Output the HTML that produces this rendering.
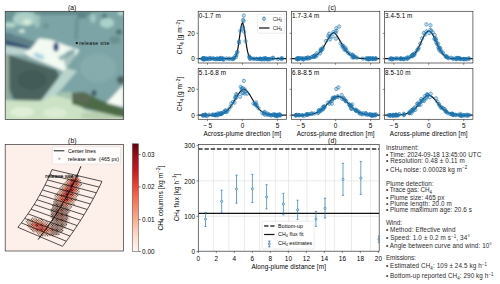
<!DOCTYPE html><html><head><meta charset="utf-8"><style>html,body{margin:0;padding:0;background:#fff;overflow:hidden}svg{display:block}text{font-family:"Liberation Sans",sans-serif;white-space:pre}</style></head><body>
<svg width="500" height="284" viewBox="0 0 500 284">
<rect width="500" height="284" fill="#fff"/>
<defs><filter id="blurA" x="-10%" y="-10%" width="120%" height="120%"><feGaussianBlur stdDeviation="1.6"/></filter>
<clipPath id="clipA"><rect x="5.2" y="11.3" width="118.5" height="108.10000000000001"/></clipPath></defs>
<g clip-path="url(#clipA)"><g filter="url(#blurA)">
<rect x="0" y="0" width="130" height="125" fill="#7ca4a6"/>
<rect x="0" y="0" width="15" height="21" fill="#6a9494"/>
<ellipse cx="25" cy="19" rx="12" ry="7" fill="#acd0c8"/>
<ellipse cx="27" cy="22" rx="4" ry="3" fill="#d4ead8"/>
<ellipse cx="10" cy="25" rx="6" ry="2.5" fill="#b4d6cc"/>
<ellipse cx="22" cy="31" rx="3" ry="1.5" fill="#dcefe6"/>
<ellipse cx="8" cy="36" rx="6" ry="3" fill="#4e7484"/>
<ellipse cx="37" cy="20" rx="3" ry="8" fill="#9cc4bc"/>
<rect x="35" y="11" width="60" height="3.5" fill="#5e8484"/>
<ellipse cx="46" cy="26" rx="3" ry="2" fill="#6a9090"/>
<ellipse cx="82" cy="16" rx="5" ry="2.5" fill="#5a8488"/>
<polygon points="75,18 79,18 78,40 74,40" fill="#6a9498"/>
<ellipse cx="93" cy="18" rx="3" ry="5" fill="#a0c8c0"/>
<ellipse cx="107" cy="23" rx="7" ry="5" fill="#aad2ca"/>
<ellipse cx="104.5" cy="16" rx="2.5" ry="2.2" fill="#507070"/>
<ellipse cx="119" cy="32" rx="3" ry="2.5" fill="#4a6a6a"/>
<ellipse cx="121" cy="13" rx="3" ry="2" fill="#c0e0d0"/>
<ellipse cx="115" cy="40" rx="6" ry="4" fill="#6a9090"/>
<polygon points="0,32 22,37 38,43 31,48 0,44" fill="#5e8088"/>
<polygon points="5,40 25,45.5 31,48.5 29,50 5,45" fill="#2f5070"/>
<polygon points="5,45.5 29,49.5 36,55 5,54.5" fill="#bcd4d0"/>
<polygon points="39,38.3 50,39.5 59.5,42.9 67.5,46.1 79.4,50.1 64.3,71.5 50,65.2 30,57 24,53 31,48.5" fill="#f2faf2"/>
<polygon points="58,57 74,48.5 76,52 61,61" fill="#98b8b8"/>
<ellipse cx="56" cy="47" rx="2.6" ry="4.5" fill="#1e3c78"/>
<ellipse cx="39" cy="56" rx="6" ry="2.5" fill="#a8d4e0" transform="rotate(22 39 56)"/>
<polygon points="0,53 26,57 49,66 63,72 58,74 0,58" fill="#88a8a8"/>
<ellipse cx="98" cy="68" rx="18" ry="14" fill="#90b2b2" opacity="0.6"/>
<ellipse cx="70" cy="60" rx="6" ry="10" fill="#7aa0a0" opacity="0.6"/>
<polygon points="8.9,55 30,61.5 56.5,70 60,78 56.7,90.6 48.7,98.5 34.5,101.7 13.7,100 9.2,89.3" fill="#4c645e"/>
<ellipse cx="32" cy="80" rx="15" ry="10" fill="#425a54"/>
<polygon points="0,56 9,56 9,102 0,102" fill="#94ac9c"/>
<polygon points="66,68 77,71 46,107 37,106" fill="#b8d4cc"/>
<polygon points="60,92 72,92 72,104 55,104" fill="#c0d8b8" opacity="0.6"/>
<polygon points="0,100 41,100.8 55,95 72,100 85,110 125,116 125,125 0,125" fill="#cce2c4"/>
<ellipse cx="22" cy="112" rx="12" ry="5" fill="#e0f0d8"/>
<ellipse cx="55" cy="113" rx="12" ry="5" fill="#dcecd4"/>
<ellipse cx="100" cy="116" rx="20" ry="4" fill="#b8d0b0"/>
<polygon points="72,93 84,92 100,100 125,109 125,118 100,112 85,108 72,104" fill="#4e6a46"/>
<ellipse cx="82" cy="98" rx="9" ry="6" fill="#5a6a52"/>
<ellipse cx="94" cy="93" rx="2.5" ry="3" fill="#3e5a6a"/>
<ellipse cx="121" cy="80" rx="4" ry="4" fill="#4c6262"/>
<polygon points="106.4,103 123.7,84.5 123.7,107" fill="#f6fcf4"/>
</g></g>
<rect x="5.20" y="11.30" width="118.50" height="108.10" fill="none" stroke="#333" stroke-width="0.7"/>
<circle cx="76.8" cy="43" r="1.1" fill="#000"/>
<text x="79.30" y="44.90" font-size="5.15" text-anchor="start" fill="#000" textLength="30.00" lengthAdjust="spacing"><tspan>release site</tspan></text>
<text x="72.10" y="10.30" font-size="6.72" text-anchor="middle" fill="#000" textLength="8.36" lengthAdjust="spacing"><tspan>(a)</tspan></text>
<defs><clipPath id="clipB"><rect x="5.2" y="144.6" width="118.39999999999999" height="106.4"/></clipPath>
<filter id="blurB" x="-20%" y="-20%" width="140%" height="140%"><feGaussianBlur stdDeviation="0.7"/></filter></defs>
<rect x="5.2" y="144.6" width="118.39999999999999" height="106.4" fill="#fdefea"/>
<g clip-path="url(#clipB)">
<g><rect x="70.75" y="175.00" width="1.30" height="1.30" fill="#fee4d7"/><rect x="72.00" y="175.00" width="1.30" height="1.30" fill="#6a5b55"/><rect x="73.25" y="175.00" width="1.30" height="1.30" fill="#fdd6c5"/><rect x="74.50" y="175.00" width="1.30" height="1.30" fill="#6a554c"/><rect x="75.75" y="175.00" width="1.30" height="1.30" fill="#fee5d9"/><rect x="68.25" y="176.25" width="1.30" height="1.30" fill="#6a605b"/><rect x="69.50" y="176.25" width="1.30" height="1.30" fill="#fedbcb"/><rect x="70.75" y="176.25" width="1.30" height="1.30" fill="#6a5851"/><rect x="72.00" y="176.25" width="1.30" height="1.30" fill="#fdcab5"/><rect x="73.25" y="176.25" width="1.30" height="1.30" fill="#693c2f"/><rect x="74.50" y="176.25" width="1.30" height="1.30" fill="#fca88b"/><rect x="75.75" y="176.25" width="1.30" height="1.30" fill="#6a574e"/><rect x="77.00" y="176.25" width="1.30" height="1.30" fill="#fedbcb"/><rect x="78.25" y="176.25" width="1.30" height="1.30" fill="#fee8de"/><rect x="67.00" y="177.50" width="1.30" height="1.30" fill="#6a5f5a"/><rect x="68.25" y="177.50" width="1.30" height="1.30" fill="#fed7c7"/><rect x="69.50" y="177.50" width="1.30" height="1.30" fill="#6a574f"/><rect x="70.75" y="177.50" width="1.30" height="1.30" fill="#fcaf93"/><rect x="72.00" y="177.50" width="1.30" height="1.30" fill="#693c2e"/><rect x="73.25" y="177.50" width="1.30" height="1.30" fill="#f96245"/><rect x="74.50" y="177.50" width="1.30" height="1.30" fill="#694337"/><rect x="75.75" y="177.50" width="1.30" height="1.30" fill="#fc9474"/><rect x="77.00" y="177.50" width="1.30" height="1.30" fill="#694539"/><rect x="78.25" y="177.50" width="1.30" height="1.30" fill="#fdd6c5"/><rect x="79.50" y="177.50" width="1.30" height="1.30" fill="#fee6db"/><rect x="67.00" y="178.75" width="1.30" height="1.30" fill="#fedfd1"/><rect x="68.25" y="178.75" width="1.30" height="1.30" fill="#695146"/><rect x="69.50" y="178.75" width="1.30" height="1.30" fill="#fc9778"/><rect x="70.75" y="178.75" width="1.30" height="1.30" fill="#67251a"/><rect x="72.00" y="178.75" width="1.30" height="1.30" fill="#e9362a"/><rect x="73.25" y="178.75" width="1.30" height="1.30" fill="#651c15"/><rect x="74.50" y="178.75" width="1.30" height="1.30" fill="#fb6f4f"/><rect x="75.75" y="178.75" width="1.30" height="1.30" fill="#662219"/><rect x="77.00" y="178.75" width="1.30" height="1.30" fill="#fc9576"/><rect x="78.25" y="178.75" width="1.30" height="1.30" fill="#694e43"/><rect x="79.50" y="178.75" width="1.30" height="1.30" fill="#fee2d6"/><rect x="80.75" y="178.75" width="1.30" height="1.30" fill="#fee8de"/><rect x="65.75" y="180.00" width="1.30" height="1.30" fill="#fee0d3"/><rect x="67.00" y="180.00" width="1.30" height="1.30" fill="#6a5750"/><rect x="68.25" y="180.00" width="1.30" height="1.30" fill="#fcb79d"/><rect x="69.50" y="180.00" width="1.30" height="1.30" fill="#693c2f"/><rect x="70.75" y="180.00" width="1.30" height="1.30" fill="#dc2924"/><rect x="72.00" y="180.00" width="1.30" height="1.30" fill="#631812"/><rect x="73.25" y="180.00" width="1.30" height="1.30" fill="#ba1419"/><rect x="74.50" y="180.00" width="1.30" height="1.30" fill="#611611"/><rect x="75.75" y="180.00" width="1.30" height="1.30" fill="#f14230"/><rect x="77.00" y="180.00" width="1.30" height="1.30" fill="#68281c"/><rect x="78.25" y="180.00" width="1.30" height="1.30" fill="#fca183"/><rect x="79.50" y="180.00" width="1.30" height="1.30" fill="#6a5952"/><rect x="64.50" y="181.25" width="1.30" height="1.30" fill="#fee8de"/><rect x="65.75" y="181.25" width="1.30" height="1.30" fill="#6a5951"/><rect x="67.00" y="181.25" width="1.30" height="1.30" fill="#fcb89e"/><rect x="68.25" y="181.25" width="1.30" height="1.30" fill="#693b2d"/><rect x="69.50" y="181.25" width="1.30" height="1.30" fill="#fb7959"/><rect x="70.75" y="181.25" width="1.30" height="1.30" fill="#641a13"/><rect x="72.00" y="181.25" width="1.30" height="1.30" fill="#c2161b"/><rect x="73.25" y="181.25" width="1.30" height="1.30" fill="#53090b"/><rect x="74.50" y="181.25" width="1.30" height="1.30" fill="#b21218"/><rect x="75.75" y="181.25" width="1.30" height="1.30" fill="#601410"/><rect x="77.00" y="181.25" width="1.30" height="1.30" fill="#fb7b5b"/><rect x="78.25" y="181.25" width="1.30" height="1.30" fill="#694e44"/><rect x="79.50" y="181.25" width="1.30" height="1.30" fill="#fdd0bd"/><rect x="63.25" y="182.50" width="1.30" height="1.30" fill="#fee5da"/><rect x="64.50" y="182.50" width="1.30" height="1.30" fill="#6a5f59"/><rect x="65.75" y="182.50" width="1.30" height="1.30" fill="#fcc4ac"/><rect x="67.00" y="182.50" width="1.30" height="1.30" fill="#694134"/><rect x="68.25" y="182.50" width="1.30" height="1.30" fill="#fc8666"/><rect x="69.50" y="182.50" width="1.30" height="1.30" fill="#5c110f"/><rect x="70.75" y="182.50" width="1.30" height="1.30" fill="#d32020"/><rect x="72.00" y="182.50" width="1.30" height="1.30" fill="#4d080a"/><rect x="73.25" y="182.50" width="1.30" height="1.30" fill="#810610"/><rect x="74.50" y="182.50" width="1.30" height="1.30" fill="#651d15"/><rect x="75.75" y="182.50" width="1.30" height="1.30" fill="#c5171c"/><rect x="77.00" y="182.50" width="1.30" height="1.30" fill="#692c1f"/><rect x="78.25" y="182.50" width="1.30" height="1.30" fill="#fcab8f"/><rect x="79.50" y="182.50" width="1.30" height="1.30" fill="#6a564e"/><rect x="80.75" y="182.50" width="1.30" height="1.30" fill="#fee8de"/><rect x="62.00" y="183.75" width="1.30" height="1.30" fill="#fee7dc"/><rect x="63.25" y="183.75" width="1.30" height="1.30" fill="#6a605b"/><rect x="64.50" y="183.75" width="1.30" height="1.30" fill="#fdccb8"/><rect x="65.75" y="183.75" width="1.30" height="1.30" fill="#694c41"/><rect x="67.00" y="183.75" width="1.30" height="1.30" fill="#fc9d7f"/><rect x="68.25" y="183.75" width="1.30" height="1.30" fill="#69382b"/><rect x="69.50" y="183.75" width="1.30" height="1.30" fill="#cd1a1e"/><rect x="70.75" y="183.75" width="1.30" height="1.30" fill="#662218"/><rect x="72.00" y="183.75" width="1.30" height="1.30" fill="#b71319"/><rect x="73.25" y="183.75" width="1.30" height="1.30" fill="#350206"/><rect x="74.50" y="183.75" width="1.30" height="1.30" fill="#f4503a"/><rect x="75.75" y="183.75" width="1.30" height="1.30" fill="#692f22"/><rect x="77.00" y="183.75" width="1.30" height="1.30" fill="#fc8060"/><rect x="78.25" y="183.75" width="1.30" height="1.30" fill="#694c41"/><rect x="79.50" y="183.75" width="1.30" height="1.30" fill="#fdd3c1"/><rect x="80.75" y="183.75" width="1.30" height="1.30" fill="#6a605b"/><rect x="62.00" y="185.00" width="1.30" height="1.30" fill="#6a605b"/><rect x="63.25" y="185.00" width="1.30" height="1.30" fill="#fdd1be"/><rect x="64.50" y="185.00" width="1.30" height="1.30" fill="#6a554c"/><rect x="65.75" y="185.00" width="1.30" height="1.30" fill="#fc8464"/><rect x="67.00" y="185.00" width="1.30" height="1.30" fill="#693b2d"/><rect x="68.25" y="185.00" width="1.30" height="1.30" fill="#fb7757"/><rect x="69.50" y="185.00" width="1.30" height="1.30" fill="#662118"/><rect x="70.75" y="185.00" width="1.30" height="1.30" fill="#800610"/><rect x="72.00" y="185.00" width="1.30" height="1.30" fill="#560b0d"/><rect x="73.25" y="185.00" width="1.30" height="1.30" fill="#f0402f"/><rect x="74.50" y="185.00" width="1.30" height="1.30" fill="#692d20"/><rect x="75.75" y="185.00" width="1.30" height="1.30" fill="#fc8e6e"/><rect x="77.00" y="185.00" width="1.30" height="1.30" fill="#693c2e"/><rect x="78.25" y="185.00" width="1.30" height="1.30" fill="#fcbda4"/><rect x="79.50" y="185.00" width="1.30" height="1.30" fill="#6a5c55"/><rect x="60.75" y="186.25" width="1.30" height="1.30" fill="#6a605b"/><rect x="62.00" y="186.25" width="1.30" height="1.30" fill="#fdd3c1"/><rect x="63.25" y="186.25" width="1.30" height="1.30" fill="#6a564e"/><rect x="64.50" y="186.25" width="1.30" height="1.30" fill="#fca588"/><rect x="65.75" y="186.25" width="1.30" height="1.30" fill="#693a2c"/><rect x="67.00" y="186.25" width="1.30" height="1.30" fill="#eb372a"/><rect x="68.25" y="186.25" width="1.30" height="1.30" fill="#661f16"/><rect x="69.50" y="186.25" width="1.30" height="1.30" fill="#8e0912"/><rect x="70.75" y="186.25" width="1.30" height="1.30" fill="#590e0e"/><rect x="72.00" y="186.25" width="1.30" height="1.30" fill="#e32f27"/><rect x="73.25" y="186.25" width="1.30" height="1.30" fill="#51090b"/><rect x="74.50" y="186.25" width="1.30" height="1.30" fill="#f34a35"/><rect x="75.75" y="186.25" width="1.30" height="1.30" fill="#694033"/><rect x="77.00" y="186.25" width="1.30" height="1.30" fill="#fca184"/><rect x="78.25" y="186.25" width="1.30" height="1.30" fill="#6a5b54"/><rect x="79.50" y="186.25" width="1.30" height="1.30" fill="#fee2d4"/><rect x="59.50" y="187.50" width="1.30" height="1.30" fill="#6a5f5a"/><rect x="60.75" y="187.50" width="1.30" height="1.30" fill="#fed9c8"/><rect x="62.00" y="187.50" width="1.30" height="1.30" fill="#6a5249"/><rect x="63.25" y="187.50" width="1.30" height="1.30" fill="#fcb398"/><rect x="64.50" y="187.50" width="1.30" height="1.30" fill="#694337"/><rect x="65.75" y="187.50" width="1.30" height="1.30" fill="#f85d42"/><rect x="67.00" y="187.50" width="1.30" height="1.30" fill="#692c1f"/><rect x="68.25" y="187.50" width="1.30" height="1.30" fill="#f03f2f"/><rect x="69.50" y="187.50" width="1.30" height="1.30" fill="#560b0c"/><rect x="70.75" y="187.50" width="1.30" height="1.30" fill="#f04130"/><rect x="72.00" y="187.50" width="1.30" height="1.30" fill="#590e0d"/><rect x="73.25" y="187.50" width="1.30" height="1.30" fill="#ca181d"/><rect x="74.50" y="187.50" width="1.30" height="1.30" fill="#662017"/><rect x="75.75" y="187.50" width="1.30" height="1.30" fill="#fc8d6d"/><rect x="77.00" y="187.50" width="1.30" height="1.30" fill="#694a3f"/><rect x="78.25" y="187.50" width="1.30" height="1.30" fill="#fed9c8"/><rect x="59.50" y="188.75" width="1.30" height="1.30" fill="#fedfd1"/><rect x="60.75" y="188.75" width="1.30" height="1.30" fill="#6a5951"/><rect x="62.00" y="188.75" width="1.30" height="1.30" fill="#fcae92"/><rect x="63.25" y="188.75" width="1.30" height="1.30" fill="#69493e"/><rect x="64.50" y="188.75" width="1.30" height="1.30" fill="#f4513a"/><rect x="65.75" y="188.75" width="1.30" height="1.30" fill="#68271b"/><rect x="67.00" y="188.75" width="1.30" height="1.30" fill="#f85f43"/><rect x="68.25" y="188.75" width="1.30" height="1.30" fill="#5e120f"/><rect x="69.50" y="188.75" width="1.30" height="1.30" fill="#c9181d"/><rect x="70.75" y="188.75" width="1.30" height="1.30" fill="#651d15"/><rect x="72.00" y="188.75" width="1.30" height="1.30" fill="#dd2a25"/><rect x="73.25" y="188.75" width="1.30" height="1.30" fill="#662017"/><rect x="74.50" y="188.75" width="1.30" height="1.30" fill="#f96245"/><rect x="75.75" y="188.75" width="1.30" height="1.30" fill="#694639"/><rect x="77.00" y="188.75" width="1.30" height="1.30" fill="#fdcdb8"/><rect x="78.25" y="188.75" width="1.30" height="1.30" fill="#6a5e59"/><rect x="79.50" y="188.75" width="1.30" height="1.30" fill="#fee8dd"/><rect x="57.00" y="190.00" width="1.30" height="1.30" fill="#fee8dd"/><rect x="58.25" y="190.00" width="1.30" height="1.30" fill="#fee5d9"/><rect x="59.50" y="190.00" width="1.30" height="1.30" fill="#6a5d56"/><rect x="60.75" y="190.00" width="1.30" height="1.30" fill="#fdccb8"/><rect x="62.00" y="190.00" width="1.30" height="1.30" fill="#694a3f"/><rect x="63.25" y="190.00" width="1.30" height="1.30" fill="#fb7252"/><rect x="64.50" y="190.00" width="1.30" height="1.30" fill="#692d1f"/><rect x="65.75" y="190.00" width="1.30" height="1.30" fill="#f85f43"/><rect x="67.00" y="190.00" width="1.30" height="1.30" fill="#440608"/><rect x="68.25" y="190.00" width="1.30" height="1.30" fill="#990c13"/><rect x="69.50" y="190.00" width="1.30" height="1.30" fill="#5f1410"/><rect x="70.75" y="190.00" width="1.30" height="1.30" fill="#960b13"/><rect x="72.00" y="190.00" width="1.30" height="1.30" fill="#5b0f0e"/><rect x="73.25" y="190.00" width="1.30" height="1.30" fill="#ee3a2c"/><rect x="74.50" y="190.00" width="1.30" height="1.30" fill="#693225"/><rect x="75.75" y="190.00" width="1.30" height="1.30" fill="#fc9d7e"/><rect x="77.00" y="190.00" width="1.30" height="1.30" fill="#6a5249"/><rect x="78.25" y="190.00" width="1.30" height="1.30" fill="#fee0d2"/><rect x="55.75" y="191.25" width="1.30" height="1.30" fill="#fee8dd"/><rect x="57.00" y="191.25" width="1.30" height="1.30" fill="#fee6da"/><rect x="58.25" y="191.25" width="1.30" height="1.30" fill="#6a574f"/><rect x="59.50" y="191.25" width="1.30" height="1.30" fill="#fdc8b2"/><rect x="60.75" y="191.25" width="1.30" height="1.30" fill="#69483c"/><rect x="62.00" y="191.25" width="1.30" height="1.30" fill="#fc9d7e"/><rect x="63.25" y="191.25" width="1.30" height="1.30" fill="#692c1f"/><rect x="64.50" y="191.25" width="1.30" height="1.30" fill="#cc191d"/><rect x="65.75" y="191.25" width="1.30" height="1.30" fill="#550a0c"/><rect x="67.00" y="191.25" width="1.30" height="1.30" fill="#a30e15"/><rect x="68.25" y="191.25" width="1.30" height="1.30" fill="#570c0d"/><rect x="69.50" y="191.25" width="1.30" height="1.30" fill="#d62221"/><rect x="70.75" y="191.25" width="1.30" height="1.30" fill="#611611"/><rect x="72.00" y="191.25" width="1.30" height="1.30" fill="#e93529"/><rect x="73.25" y="191.25" width="1.30" height="1.30" fill="#68281c"/><rect x="74.50" y="191.25" width="1.30" height="1.30" fill="#fc8666"/><rect x="75.75" y="191.25" width="1.30" height="1.30" fill="#6a554c"/><rect x="77.00" y="191.25" width="1.30" height="1.30" fill="#fdd2bf"/><rect x="78.25" y="191.25" width="1.30" height="1.30" fill="#6a5f5a"/><rect x="57.00" y="192.50" width="1.30" height="1.30" fill="#6a5b54"/><rect x="58.25" y="192.50" width="1.30" height="1.30" fill="#fdd2bf"/><rect x="59.50" y="192.50" width="1.30" height="1.30" fill="#695147"/><rect x="60.75" y="192.50" width="1.30" height="1.30" fill="#fcb296"/><rect x="62.00" y="192.50" width="1.30" height="1.30" fill="#694033"/><rect x="63.25" y="192.50" width="1.30" height="1.30" fill="#ef3d2d"/><rect x="64.50" y="192.50" width="1.30" height="1.30" fill="#67261b"/><rect x="65.75" y="192.50" width="1.30" height="1.30" fill="#8f0a12"/><rect x="67.00" y="192.50" width="1.30" height="1.30" fill="#631712"/><rect x="68.25" y="192.50" width="1.30" height="1.30" fill="#810610"/><rect x="69.50" y="192.50" width="1.30" height="1.30" fill="#641a13"/><rect x="70.75" y="192.50" width="1.30" height="1.30" fill="#fa6446"/><rect x="72.00" y="192.50" width="1.30" height="1.30" fill="#631812"/><rect x="73.25" y="192.50" width="1.30" height="1.30" fill="#fc9070"/><rect x="74.50" y="192.50" width="1.30" height="1.30" fill="#693f32"/><rect x="75.75" y="192.50" width="1.30" height="1.30" fill="#fdd0bd"/><rect x="77.00" y="192.50" width="1.30" height="1.30" fill="#6a605a"/><rect x="78.25" y="192.50" width="1.30" height="1.30" fill="#fee7dc"/><rect x="54.50" y="193.75" width="1.30" height="1.30" fill="#fee8de"/><rect x="55.75" y="193.75" width="1.30" height="1.30" fill="#6a5e59"/><rect x="57.00" y="193.75" width="1.30" height="1.30" fill="#fdcab5"/><rect x="58.25" y="193.75" width="1.30" height="1.30" fill="#694a3f"/><rect x="59.50" y="193.75" width="1.30" height="1.30" fill="#fcaf93"/><rect x="60.75" y="193.75" width="1.30" height="1.30" fill="#694337"/><rect x="62.00" y="193.75" width="1.30" height="1.30" fill="#fb7252"/><rect x="63.25" y="193.75" width="1.30" height="1.30" fill="#641a13"/><rect x="64.50" y="193.75" width="1.30" height="1.30" fill="#ca181d"/><rect x="65.75" y="193.75" width="1.30" height="1.30" fill="#3f0407"/><rect x="67.00" y="193.75" width="1.30" height="1.30" fill="#7a050f"/><rect x="68.25" y="193.75" width="1.30" height="1.30" fill="#651c14"/><rect x="69.50" y="193.75" width="1.30" height="1.30" fill="#ae1117"/><rect x="70.75" y="193.75" width="1.30" height="1.30" fill="#580c0d"/><rect x="72.00" y="193.75" width="1.30" height="1.30" fill="#f14432"/><rect x="73.25" y="193.75" width="1.30" height="1.30" fill="#69392c"/><rect x="74.50" y="193.75" width="1.30" height="1.30" fill="#fcbda4"/><rect x="75.75" y="193.75" width="1.30" height="1.30" fill="#6a544a"/><rect x="77.00" y="193.75" width="1.30" height="1.30" fill="#fee0d2"/><rect x="54.50" y="195.00" width="1.30" height="1.30" fill="#6a605b"/><rect x="55.75" y="195.00" width="1.30" height="1.30" fill="#fee1d4"/><rect x="57.00" y="195.00" width="1.30" height="1.30" fill="#695147"/><rect x="58.25" y="195.00" width="1.30" height="1.30" fill="#fcba9f"/><rect x="59.50" y="195.00" width="1.30" height="1.30" fill="#693426"/><rect x="60.75" y="195.00" width="1.30" height="1.30" fill="#f7593f"/><rect x="62.00" y="195.00" width="1.30" height="1.30" fill="#5a0e0e"/><rect x="63.25" y="195.00" width="1.30" height="1.30" fill="#a81016"/><rect x="64.50" y="195.00" width="1.30" height="1.30" fill="#5e120f"/><rect x="65.75" y="195.00" width="1.30" height="1.30" fill="#f03d2d"/><rect x="67.00" y="195.00" width="1.30" height="1.30" fill="#5d120f"/><rect x="68.25" y="195.00" width="1.30" height="1.30" fill="#ea362a"/><rect x="69.50" y="195.00" width="1.30" height="1.30" fill="#67251a"/><rect x="70.75" y="195.00" width="1.30" height="1.30" fill="#fb7b5b"/><rect x="72.00" y="195.00" width="1.30" height="1.30" fill="#692f22"/><rect x="73.25" y="195.00" width="1.30" height="1.30" fill="#fc8969"/><rect x="74.50" y="195.00" width="1.30" height="1.30" fill="#695147"/><rect x="75.75" y="195.00" width="1.30" height="1.30" fill="#fdceba"/><rect x="77.00" y="195.00" width="1.30" height="1.30" fill="#6a5f59"/><rect x="53.25" y="196.25" width="1.30" height="1.30" fill="#fee7dd"/><rect x="54.50" y="196.25" width="1.30" height="1.30" fill="#fedfd1"/><rect x="55.75" y="196.25" width="1.30" height="1.30" fill="#6a5d57"/><rect x="57.00" y="196.25" width="1.30" height="1.30" fill="#fdc7b1"/><rect x="58.25" y="196.25" width="1.30" height="1.30" fill="#695045"/><rect x="59.50" y="196.25" width="1.30" height="1.30" fill="#fb7050"/><rect x="60.75" y="196.25" width="1.30" height="1.30" fill="#651c15"/><rect x="62.00" y="196.25" width="1.30" height="1.30" fill="#ee3a2c"/><rect x="63.25" y="196.25" width="1.30" height="1.30" fill="#5c110f"/><rect x="64.50" y="196.25" width="1.30" height="1.30" fill="#ce1a1e"/><rect x="65.75" y="196.25" width="1.30" height="1.30" fill="#350206"/><rect x="67.00" y="196.25" width="1.30" height="1.30" fill="#c0151b"/><rect x="68.25" y="196.25" width="1.30" height="1.30" fill="#51090b"/><rect x="69.50" y="196.25" width="1.30" height="1.30" fill="#f96245"/><rect x="70.75" y="196.25" width="1.30" height="1.30" fill="#693225"/><rect x="72.00" y="196.25" width="1.30" height="1.30" fill="#fca588"/><rect x="73.25" y="196.25" width="1.30" height="1.30" fill="#694437"/><rect x="74.50" y="196.25" width="1.30" height="1.30" fill="#fdc7b1"/><rect x="75.75" y="196.25" width="1.30" height="1.30" fill="#6a5f5a"/><rect x="77.00" y="196.25" width="1.30" height="1.30" fill="#fee7dc"/><rect x="53.25" y="197.50" width="1.30" height="1.30" fill="#fee7dd"/><rect x="54.50" y="197.50" width="1.30" height="1.30" fill="#6a5f5a"/><rect x="55.75" y="197.50" width="1.30" height="1.30" fill="#fedaca"/><rect x="57.00" y="197.50" width="1.30" height="1.30" fill="#694d42"/><rect x="58.25" y="197.50" width="1.30" height="1.30" fill="#fc9677"/><rect x="59.50" y="197.50" width="1.30" height="1.30" fill="#693225"/><rect x="60.75" y="197.50" width="1.30" height="1.30" fill="#fa6547"/><rect x="62.00" y="197.50" width="1.30" height="1.30" fill="#692b1e"/><rect x="63.25" y="197.50" width="1.30" height="1.30" fill="#f75a40"/><rect x="64.50" y="197.50" width="1.30" height="1.30" fill="#4f080a"/><rect x="65.75" y="197.50" width="1.30" height="1.30" fill="#d21f20"/><rect x="67.00" y="197.50" width="1.30" height="1.30" fill="#470609"/><rect x="68.25" y="197.50" width="1.30" height="1.30" fill="#f75c41"/><rect x="69.50" y="197.50" width="1.30" height="1.30" fill="#5d120f"/><rect x="70.75" y="197.50" width="1.30" height="1.30" fill="#fc7f5f"/><rect x="72.00" y="197.50" width="1.30" height="1.30" fill="#69372a"/><rect x="73.25" y="197.50" width="1.30" height="1.30" fill="#fca98c"/><rect x="74.50" y="197.50" width="1.30" height="1.30" fill="#6a5851"/><rect x="75.75" y="197.50" width="1.30" height="1.30" fill="#fee8dd"/><rect x="54.50" y="198.75" width="1.30" height="1.30" fill="#f3d8cc"/><rect x="55.75" y="198.75" width="1.30" height="1.30" fill="#6a564e"/><rect x="57.00" y="198.75" width="1.30" height="1.30" fill="#fcc4ad"/><rect x="58.25" y="198.75" width="1.30" height="1.30" fill="#694236"/><rect x="59.50" y="198.75" width="1.30" height="1.30" fill="#fb6f4f"/><rect x="60.75" y="198.75" width="1.30" height="1.30" fill="#69372a"/><rect x="62.00" y="198.75" width="1.30" height="1.30" fill="#f03f2e"/><rect x="63.25" y="198.75" width="1.30" height="1.30" fill="#5c110f"/><rect x="64.50" y="198.75" width="1.30" height="1.30" fill="#f6553d"/><rect x="65.75" y="198.75" width="1.30" height="1.30" fill="#4d080a"/><rect x="67.00" y="198.75" width="1.30" height="1.30" fill="#b01117"/><rect x="68.25" y="198.75" width="1.30" height="1.30" fill="#662117"/><rect x="69.50" y="198.75" width="1.30" height="1.30" fill="#f96345"/><rect x="70.75" y="198.75" width="1.30" height="1.30" fill="#692d1f"/><rect x="72.00" y="198.75" width="1.30" height="1.30" fill="#fca486"/><rect x="73.25" y="198.75" width="1.30" height="1.30" fill="#6a534a"/><rect x="74.50" y="198.75" width="1.30" height="1.30" fill="#fdd2bf"/><rect x="75.75" y="198.75" width="1.30" height="1.30" fill="#6a5f5a"/><rect x="54.50" y="200.00" width="1.30" height="1.30" fill="#60544e"/><rect x="55.75" y="200.00" width="1.30" height="1.30" fill="#e6bead"/><rect x="57.00" y="200.00" width="1.30" height="1.30" fill="#5f4940"/><rect x="58.25" y="200.00" width="1.30" height="1.30" fill="#fca385"/><rect x="59.50" y="200.00" width="1.30" height="1.30" fill="#693c2f"/><rect x="60.75" y="200.00" width="1.30" height="1.30" fill="#fb7c5c"/><rect x="62.00" y="200.00" width="1.30" height="1.30" fill="#69372a"/><rect x="63.25" y="200.00" width="1.30" height="1.30" fill="#f24533"/><rect x="64.50" y="200.00" width="1.30" height="1.30" fill="#580d0d"/><rect x="65.75" y="200.00" width="1.30" height="1.30" fill="#e43128"/><rect x="67.00" y="200.00" width="1.30" height="1.30" fill="#662017"/><rect x="68.25" y="200.00" width="1.30" height="1.30" fill="#f5543c"/><rect x="69.50" y="200.00" width="1.30" height="1.30" fill="#693c2e"/><rect x="70.75" y="200.00" width="1.30" height="1.30" fill="#fc8e6e"/><rect x="72.00" y="200.00" width="1.30" height="1.30" fill="#694b40"/><rect x="73.25" y="200.00" width="1.30" height="1.30" fill="#fdcdb8"/><rect x="74.50" y="200.00" width="1.30" height="1.30" fill="#6a5e58"/><rect x="53.25" y="201.25" width="1.30" height="1.30" fill="#584c48"/><rect x="54.50" y="201.25" width="1.30" height="1.30" fill="#bd998b"/><rect x="55.75" y="201.25" width="1.30" height="1.30" fill="#4b3b35"/><rect x="57.00" y="201.25" width="1.30" height="1.30" fill="#cb9784"/><rect x="58.25" y="201.25" width="1.30" height="1.30" fill="#5d3b31"/><rect x="59.50" y="201.25" width="1.30" height="1.30" fill="#fc8161"/><rect x="60.75" y="201.25" width="1.30" height="1.30" fill="#692c1e"/><rect x="62.00" y="201.25" width="1.30" height="1.30" fill="#fb7757"/><rect x="63.25" y="201.25" width="1.30" height="1.30" fill="#68291c"/><rect x="64.50" y="201.25" width="1.30" height="1.30" fill="#f34b36"/><rect x="65.75" y="201.25" width="1.30" height="1.30" fill="#692f22"/><rect x="67.00" y="201.25" width="1.30" height="1.30" fill="#fb7d5d"/><rect x="68.25" y="201.25" width="1.30" height="1.30" fill="#692c1f"/><rect x="69.50" y="201.25" width="1.30" height="1.30" fill="#fc8767"/><rect x="70.75" y="201.25" width="1.30" height="1.30" fill="#69493e"/><rect x="72.00" y="201.25" width="1.30" height="1.30" fill="#fdc6b0"/><rect x="73.25" y="201.25" width="1.30" height="1.30" fill="#6a5d56"/><rect x="74.50" y="201.25" width="1.30" height="1.30" fill="#fee6da"/><rect x="53.25" y="202.50" width="1.30" height="1.30" fill="#cfb3a8"/><rect x="54.50" y="202.50" width="1.30" height="1.30" fill="#50423d"/><rect x="55.75" y="202.50" width="1.30" height="1.30" fill="#ad8a7d"/><rect x="57.00" y="202.50" width="1.30" height="1.30" fill="#483831"/><rect x="58.25" y="202.50" width="1.30" height="1.30" fill="#c58672"/><rect x="59.50" y="202.50" width="1.30" height="1.30" fill="#54342a"/><rect x="60.75" y="202.50" width="1.30" height="1.30" fill="#df745a"/><rect x="62.00" y="202.50" width="1.30" height="1.30" fill="#69372a"/><rect x="63.25" y="202.50" width="1.30" height="1.30" fill="#fc7f5f"/><rect x="64.50" y="202.50" width="1.30" height="1.30" fill="#692d1f"/><rect x="65.75" y="202.50" width="1.30" height="1.30" fill="#fb7353"/><rect x="67.00" y="202.50" width="1.30" height="1.30" fill="#693b2e"/><rect x="68.25" y="202.50" width="1.30" height="1.30" fill="#fc8464"/><rect x="69.50" y="202.50" width="1.30" height="1.30" fill="#69463a"/><rect x="70.75" y="202.50" width="1.30" height="1.30" fill="#fdd1be"/><rect x="72.00" y="202.50" width="1.30" height="1.30" fill="#6a5951"/><rect x="73.25" y="202.50" width="1.30" height="1.30" fill="#fedecf"/><rect x="53.25" y="203.75" width="1.30" height="1.30" fill="#564945"/><rect x="54.50" y="203.75" width="1.30" height="1.30" fill="#ae8b7e"/><rect x="55.75" y="203.75" width="1.30" height="1.30" fill="#473833"/><rect x="57.00" y="203.75" width="1.30" height="1.30" fill="#a97565"/><rect x="58.25" y="203.75" width="1.30" height="1.30" fill="#46342e"/><rect x="59.50" y="203.75" width="1.30" height="1.30" fill="#aa7463"/><rect x="60.75" y="203.75" width="1.30" height="1.30" fill="#522b22"/><rect x="62.00" y="203.75" width="1.30" height="1.30" fill="#dc7d63"/><rect x="63.25" y="203.75" width="1.30" height="1.30" fill="#60382c"/><rect x="64.50" y="203.75" width="1.30" height="1.30" fill="#fb6a4a"/><rect x="65.75" y="203.75" width="1.30" height="1.30" fill="#693a2d"/><rect x="67.00" y="203.75" width="1.30" height="1.30" fill="#fc9576"/><rect x="68.25" y="203.75" width="1.30" height="1.30" fill="#694f44"/><rect x="69.50" y="203.75" width="1.30" height="1.30" fill="#fdccb7"/><rect x="70.75" y="203.75" width="1.30" height="1.30" fill="#6a5851"/><rect x="72.00" y="203.75" width="1.30" height="1.30" fill="#fee3d6"/><rect x="73.25" y="203.75" width="1.30" height="1.30" fill="#6a5f59"/><rect x="52.00" y="205.00" width="1.30" height="1.30" fill="#5a4f4b"/><rect x="53.25" y="205.00" width="1.30" height="1.30" fill="#cbafa3"/><rect x="54.50" y="205.00" width="1.30" height="1.30" fill="#4b3c37"/><rect x="55.75" y="205.00" width="1.30" height="1.30" fill="#ae8b7e"/><rect x="57.00" y="205.00" width="1.30" height="1.30" fill="#463630"/><rect x="58.25" y="205.00" width="1.30" height="1.30" fill="#a97363"/><rect x="59.50" y="205.00" width="1.30" height="1.30" fill="#46312a"/><rect x="60.75" y="205.00" width="1.30" height="1.30" fill="#a96857"/><rect x="62.00" y="205.00" width="1.30" height="1.30" fill="#47322c"/><rect x="63.25" y="205.00" width="1.30" height="1.30" fill="#c87761"/><rect x="64.50" y="205.00" width="1.30" height="1.30" fill="#5e3b2f"/><rect x="65.75" y="205.00" width="1.30" height="1.30" fill="#eea186"/><rect x="67.00" y="205.00" width="1.30" height="1.30" fill="#694f44"/><rect x="68.25" y="205.00" width="1.30" height="1.30" fill="#fdd0bc"/><rect x="69.50" y="205.00" width="1.30" height="1.30" fill="#6a5851"/><rect x="70.75" y="205.00" width="1.30" height="1.30" fill="#fee2d5"/><rect x="72.00" y="205.00" width="1.30" height="1.30" fill="#fee8dd"/><rect x="52.00" y="206.25" width="1.30" height="1.30" fill="#c8ab9f"/><rect x="53.25" y="206.25" width="1.30" height="1.30" fill="#4b3c37"/><rect x="54.50" y="206.25" width="1.30" height="1.30" fill="#b59386"/><rect x="55.75" y="206.25" width="1.30" height="1.30" fill="#46332c"/><rect x="57.00" y="206.25" width="1.30" height="1.30" fill="#a9796a"/><rect x="58.25" y="206.25" width="1.30" height="1.30" fill="#462e27"/><rect x="59.50" y="206.25" width="1.30" height="1.30" fill="#a96b5a"/><rect x="60.75" y="206.25" width="1.30" height="1.30" fill="#46322c"/><rect x="62.00" y="206.25" width="1.30" height="1.30" fill="#a97a6b"/><rect x="63.25" y="206.25" width="1.30" height="1.30" fill="#462c24"/><rect x="64.50" y="206.25" width="1.30" height="1.30" fill="#ae7f6f"/><rect x="65.75" y="206.25" width="1.30" height="1.30" fill="#563930"/><rect x="67.00" y="206.25" width="1.30" height="1.30" fill="#ecae96"/><rect x="68.25" y="206.25" width="1.30" height="1.30" fill="#6a5349"/><rect x="69.50" y="206.25" width="1.30" height="1.30" fill="#fed7c6"/><rect x="70.75" y="206.25" width="1.30" height="1.30" fill="#6a5f59"/><rect x="52.00" y="207.50" width="1.30" height="1.30" fill="#564b46"/><rect x="53.25" y="207.50" width="1.30" height="1.30" fill="#b39184"/><rect x="54.50" y="207.50" width="1.30" height="1.30" fill="#463631"/><rect x="55.75" y="207.50" width="1.30" height="1.30" fill="#a97f70"/><rect x="57.00" y="207.50" width="1.30" height="1.30" fill="#46332d"/><rect x="58.25" y="207.50" width="1.30" height="1.30" fill="#a97969"/><rect x="59.50" y="207.50" width="1.30" height="1.30" fill="#462721"/><rect x="60.75" y="207.50" width="1.30" height="1.30" fill="#a96857"/><rect x="62.00" y="207.50" width="1.30" height="1.30" fill="#46342d"/><rect x="63.25" y="207.50" width="1.30" height="1.30" fill="#a9705f"/><rect x="64.50" y="207.50" width="1.30" height="1.30" fill="#46312a"/><rect x="65.75" y="207.50" width="1.30" height="1.30" fill="#ac8374"/><rect x="67.00" y="207.50" width="1.30" height="1.30" fill="#594a44"/><rect x="68.25" y="207.50" width="1.30" height="1.30" fill="#e7c6b8"/><rect x="69.50" y="207.50" width="1.30" height="1.30" fill="#6a5f5a"/><rect x="50.75" y="208.75" width="1.30" height="1.30" fill="#594e49"/><rect x="52.00" y="208.75" width="1.30" height="1.30" fill="#bb9a8e"/><rect x="53.25" y="208.75" width="1.30" height="1.30" fill="#463731"/><rect x="54.50" y="208.75" width="1.30" height="1.30" fill="#a97f70"/><rect x="55.75" y="208.75" width="1.30" height="1.30" fill="#46322c"/><rect x="57.00" y="208.75" width="1.30" height="1.30" fill="#a96958"/><rect x="58.25" y="208.75" width="1.30" height="1.30" fill="#462b24"/><rect x="59.50" y="208.75" width="1.30" height="1.30" fill="#a96858"/><rect x="60.75" y="208.75" width="1.30" height="1.30" fill="#462d26"/><rect x="62.00" y="208.75" width="1.30" height="1.30" fill="#a9705f"/><rect x="63.25" y="208.75" width="1.30" height="1.30" fill="#463029"/><rect x="64.50" y="208.75" width="1.30" height="1.30" fill="#a97a6b"/><rect x="65.75" y="208.75" width="1.30" height="1.30" fill="#46352f"/><rect x="67.00" y="208.75" width="1.30" height="1.30" fill="#c9aca1"/><rect x="68.25" y="208.75" width="1.30" height="1.30" fill="#5a4f4a"/><rect x="69.50" y="208.75" width="1.30" height="1.30" fill="#efd8cd"/><rect x="52.00" y="210.00" width="1.30" height="1.30" fill="#51443f"/><rect x="53.25" y="210.00" width="1.30" height="1.30" fill="#a98071"/><rect x="54.50" y="210.00" width="1.30" height="1.30" fill="#46332c"/><rect x="55.75" y="210.00" width="1.30" height="1.30" fill="#a96c5c"/><rect x="57.00" y="210.00" width="1.30" height="1.30" fill="#462922"/><rect x="58.25" y="210.00" width="1.30" height="1.30" fill="#a96e5e"/><rect x="59.50" y="210.00" width="1.30" height="1.30" fill="#43221e"/><rect x="60.75" y="210.00" width="1.30" height="1.30" fill="#a75c4f"/><rect x="62.00" y="210.00" width="1.30" height="1.30" fill="#46302a"/><rect x="63.25" y="210.00" width="1.30" height="1.30" fill="#a96c5c"/><rect x="64.50" y="210.00" width="1.30" height="1.30" fill="#46352f"/><rect x="65.75" y="210.00" width="1.30" height="1.30" fill="#b69588"/><rect x="67.00" y="210.00" width="1.30" height="1.30" fill="#4d3f3a"/><rect x="68.25" y="210.00" width="1.30" height="1.30" fill="#d2b8ad"/><rect x="69.50" y="210.00" width="1.30" height="1.30" fill="#e0c8be"/><rect x="50.75" y="211.25" width="1.30" height="1.30" fill="#554945"/><rect x="52.00" y="211.25" width="1.30" height="1.30" fill="#cdb0a5"/><rect x="53.25" y="211.25" width="1.30" height="1.30" fill="#463732"/><rect x="54.50" y="211.25" width="1.30" height="1.30" fill="#a97f71"/><rect x="55.75" y="211.25" width="1.30" height="1.30" fill="#462e27"/><rect x="57.00" y="211.25" width="1.30" height="1.30" fill="#a65a4d"/><rect x="58.25" y="211.25" width="1.30" height="1.30" fill="#44231e"/><rect x="59.50" y="211.25" width="1.30" height="1.30" fill="#a96c5c"/><rect x="60.75" y="211.25" width="1.30" height="1.30" fill="#462c25"/><rect x="62.00" y="211.25" width="1.30" height="1.30" fill="#a75e50"/><rect x="63.25" y="211.25" width="1.30" height="1.30" fill="#462d26"/><rect x="64.50" y="211.25" width="1.30" height="1.30" fill="#a97d6e"/><rect x="65.75" y="211.25" width="1.30" height="1.30" fill="#463732"/><rect x="67.00" y="211.25" width="1.30" height="1.30" fill="#ccb0a5"/><rect x="68.25" y="211.25" width="1.30" height="1.30" fill="#584d49"/><rect x="50.75" y="212.50" width="1.30" height="1.30" fill="#caada1"/><rect x="52.00" y="212.50" width="1.30" height="1.30" fill="#4e403b"/><rect x="53.25" y="212.50" width="1.30" height="1.30" fill="#a98376"/><rect x="54.50" y="212.50" width="1.30" height="1.30" fill="#46342d"/><rect x="55.75" y="212.50" width="1.30" height="1.30" fill="#a97363"/><rect x="57.00" y="212.50" width="1.30" height="1.30" fill="#462b24"/><rect x="58.25" y="212.50" width="1.30" height="1.30" fill="#a96959"/><rect x="59.50" y="212.50" width="1.30" height="1.30" fill="#462d26"/><rect x="60.75" y="212.50" width="1.30" height="1.30" fill="#a25148"/><rect x="62.00" y="212.50" width="1.30" height="1.30" fill="#462b24"/><rect x="63.25" y="212.50" width="1.30" height="1.30" fill="#a97060"/><rect x="64.50" y="212.50" width="1.30" height="1.30" fill="#46322c"/><rect x="65.75" y="212.50" width="1.30" height="1.30" fill="#aa867a"/><rect x="67.00" y="212.50" width="1.30" height="1.30" fill="#554944"/><rect x="50.75" y="213.75" width="1.30" height="1.30" fill="#5a4f4b"/><rect x="52.00" y="213.75" width="1.30" height="1.30" fill="#ba998d"/><rect x="53.25" y="213.75" width="1.30" height="1.30" fill="#46362f"/><rect x="54.50" y="213.75" width="1.30" height="1.30" fill="#a97c6d"/><rect x="55.75" y="213.75" width="1.30" height="1.30" fill="#462e27"/><rect x="57.00" y="213.75" width="1.30" height="1.30" fill="#a97161"/><rect x="58.25" y="213.75" width="1.30" height="1.30" fill="#42201d"/><rect x="59.50" y="213.75" width="1.30" height="1.30" fill="#a5574c"/><rect x="60.75" y="213.75" width="1.30" height="1.30" fill="#42201d"/><rect x="62.00" y="213.75" width="1.30" height="1.30" fill="#a97161"/><rect x="63.25" y="213.75" width="1.30" height="1.30" fill="#462d26"/><rect x="64.50" y="213.75" width="1.30" height="1.30" fill="#a97666"/><rect x="65.75" y="213.75" width="1.30" height="1.30" fill="#463832"/><rect x="67.00" y="213.75" width="1.30" height="1.30" fill="#cdb0a5"/><rect x="50.75" y="215.00" width="1.30" height="1.30" fill="#ccb0a5"/><rect x="52.00" y="215.00" width="1.30" height="1.30" fill="#544843"/><rect x="53.25" y="215.00" width="1.30" height="1.30" fill="#a97f71"/><rect x="54.50" y="215.00" width="1.30" height="1.30" fill="#46352f"/><rect x="55.75" y="215.00" width="1.30" height="1.30" fill="#a96a5a"/><rect x="57.00" y="215.00" width="1.30" height="1.30" fill="#462b24"/><rect x="58.25" y="215.00" width="1.30" height="1.30" fill="#a25148"/><rect x="59.50" y="215.00" width="1.30" height="1.30" fill="#462c25"/><rect x="60.75" y="215.00" width="1.30" height="1.30" fill="#a75c4f"/><rect x="62.00" y="215.00" width="1.30" height="1.30" fill="#462c24"/><rect x="63.25" y="215.00" width="1.30" height="1.30" fill="#a96656"/><rect x="64.50" y="215.00" width="1.30" height="1.30" fill="#463029"/><rect x="65.75" y="215.00" width="1.30" height="1.30" fill="#a98375"/><rect x="67.00" y="215.00" width="1.30" height="1.30" fill="#544843"/><rect x="68.25" y="215.00" width="1.30" height="1.30" fill="#ddc6bc"/><rect x="50.75" y="216.25" width="1.30" height="1.30" fill="#594e4a"/><rect x="52.00" y="216.25" width="1.30" height="1.30" fill="#c7aa9e"/><rect x="53.25" y="216.25" width="1.30" height="1.30" fill="#463731"/><rect x="54.50" y="216.25" width="1.30" height="1.30" fill="#a98173"/><rect x="55.75" y="216.25" width="1.30" height="1.30" fill="#46332d"/><rect x="57.00" y="216.25" width="1.30" height="1.30" fill="#a5584c"/><rect x="58.25" y="216.25" width="1.30" height="1.30" fill="#462b24"/><rect x="59.50" y="216.25" width="1.30" height="1.30" fill="#a25249"/><rect x="60.75" y="216.25" width="1.30" height="1.30" fill="#462d27"/><rect x="62.00" y="216.25" width="1.30" height="1.30" fill="#a96959"/><rect x="63.25" y="216.25" width="1.30" height="1.30" fill="#46332c"/><rect x="64.50" y="216.25" width="1.30" height="1.30" fill="#a97d6f"/><rect x="65.75" y="216.25" width="1.30" height="1.30" fill="#4b3d37"/><rect x="67.00" y="216.25" width="1.30" height="1.30" fill="#bf9f92"/><rect x="29.50" y="217.50" width="1.30" height="1.30" fill="#fee6db"/><rect x="30.75" y="217.50" width="1.30" height="1.30" fill="#fee2d4"/><rect x="32.00" y="217.50" width="1.30" height="1.30" fill="#6a605b"/><rect x="33.25" y="217.50" width="1.30" height="1.30" fill="#fee2d4"/><rect x="34.50" y="217.50" width="1.30" height="1.30" fill="#6a5f5a"/><rect x="35.75" y="217.50" width="1.30" height="1.30" fill="#fee6da"/><rect x="37.00" y="217.50" width="1.30" height="1.30" fill="#fee7dd"/><rect x="39.50" y="217.50" width="1.30" height="1.30" fill="#fee7dc"/><rect x="50.75" y="217.50" width="1.30" height="1.30" fill="#cfb4a8"/><rect x="52.00" y="217.50" width="1.30" height="1.30" fill="#574c48"/><rect x="53.25" y="217.50" width="1.30" height="1.30" fill="#a98274"/><rect x="54.50" y="217.50" width="1.30" height="1.30" fill="#46312a"/><rect x="55.75" y="217.50" width="1.30" height="1.30" fill="#a97362"/><rect x="57.00" y="217.50" width="1.30" height="1.30" fill="#462c24"/><rect x="58.25" y="217.50" width="1.30" height="1.30" fill="#a5564a"/><rect x="59.50" y="217.50" width="1.30" height="1.30" fill="#462c26"/><rect x="60.75" y="217.50" width="1.30" height="1.30" fill="#a86353"/><rect x="62.00" y="217.50" width="1.30" height="1.30" fill="#462a24"/><rect x="63.25" y="217.50" width="1.30" height="1.30" fill="#a97768"/><rect x="64.50" y="217.50" width="1.30" height="1.30" fill="#46332d"/><rect x="65.75" y="217.50" width="1.30" height="1.30" fill="#b18e81"/><rect x="67.00" y="217.50" width="1.30" height="1.30" fill="#534742"/><rect x="68.25" y="217.50" width="1.30" height="1.30" fill="#dbc3b9"/><rect x="27.00" y="218.75" width="1.30" height="1.30" fill="#fee7dd"/><rect x="28.25" y="218.75" width="1.30" height="1.30" fill="#6a5f5a"/><rect x="29.50" y="218.75" width="1.30" height="1.30" fill="#fee4d8"/><rect x="30.75" y="218.75" width="1.30" height="1.30" fill="#6a5c56"/><rect x="32.00" y="218.75" width="1.30" height="1.30" fill="#fdc9b3"/><rect x="33.25" y="218.75" width="1.30" height="1.30" fill="#6a554d"/><rect x="34.50" y="218.75" width="1.30" height="1.30" fill="#fdd1bf"/><rect x="35.75" y="218.75" width="1.30" height="1.30" fill="#6a5750"/><rect x="37.00" y="218.75" width="1.30" height="1.30" fill="#fdcdb8"/><rect x="38.25" y="218.75" width="1.30" height="1.30" fill="#6a5851"/><rect x="39.50" y="218.75" width="1.30" height="1.30" fill="#fee3d6"/><rect x="40.75" y="218.75" width="1.30" height="1.30" fill="#6a5e59"/><rect x="42.00" y="218.75" width="1.30" height="1.30" fill="#fee8dd"/><rect x="52.00" y="218.75" width="1.30" height="1.30" fill="#c5a69a"/><rect x="53.25" y="218.75" width="1.30" height="1.30" fill="#50423d"/><rect x="54.50" y="218.75" width="1.30" height="1.30" fill="#a98476"/><rect x="55.75" y="218.75" width="1.30" height="1.30" fill="#462f29"/><rect x="57.00" y="218.75" width="1.30" height="1.30" fill="#a97464"/><rect x="58.25" y="218.75" width="1.30" height="1.30" fill="#462e27"/><rect x="59.50" y="218.75" width="1.30" height="1.30" fill="#a9705f"/><rect x="60.75" y="218.75" width="1.30" height="1.30" fill="#462922"/><rect x="62.00" y="218.75" width="1.30" height="1.30" fill="#a97a6b"/><rect x="63.25" y="218.75" width="1.30" height="1.30" fill="#46312a"/><rect x="64.50" y="218.75" width="1.30" height="1.30" fill="#a97c6d"/><rect x="65.75" y="218.75" width="1.30" height="1.30" fill="#50423d"/><rect x="67.00" y="218.75" width="1.30" height="1.30" fill="#cfb3a8"/><rect x="68.25" y="218.75" width="1.30" height="1.30" fill="#dbc3ba"/><rect x="27.00" y="220.00" width="1.30" height="1.30" fill="#6a5f5a"/><rect x="28.25" y="220.00" width="1.30" height="1.30" fill="#fed7c6"/><rect x="29.50" y="220.00" width="1.30" height="1.30" fill="#6a564e"/><rect x="30.75" y="220.00" width="1.30" height="1.30" fill="#fcc2ab"/><rect x="32.00" y="220.00" width="1.30" height="1.30" fill="#695248"/><rect x="33.25" y="220.00" width="1.30" height="1.30" fill="#fdcbb6"/><rect x="34.50" y="220.00" width="1.30" height="1.30" fill="#69483c"/><rect x="35.75" y="220.00" width="1.30" height="1.30" fill="#fcb196"/><rect x="37.00" y="220.00" width="1.30" height="1.30" fill="#69473c"/><rect x="38.25" y="220.00" width="1.30" height="1.30" fill="#fcb297"/><rect x="39.50" y="220.00" width="1.30" height="1.30" fill="#6a574f"/><rect x="40.75" y="220.00" width="1.30" height="1.30" fill="#fdd6c5"/><rect x="42.00" y="220.00" width="1.30" height="1.30" fill="#6a5e59"/><rect x="43.25" y="220.00" width="1.30" height="1.30" fill="#feddcd"/><rect x="50.75" y="220.00" width="1.30" height="1.30" fill="#d6bdb3"/><rect x="52.00" y="220.00" width="1.30" height="1.30" fill="#524540"/><rect x="53.25" y="220.00" width="1.30" height="1.30" fill="#b49285"/><rect x="54.50" y="220.00" width="1.30" height="1.30" fill="#493b35"/><rect x="55.75" y="220.00" width="1.30" height="1.30" fill="#a97768"/><rect x="57.00" y="220.00" width="1.30" height="1.30" fill="#46312a"/><rect x="58.25" y="220.00" width="1.30" height="1.30" fill="#a96e5e"/><rect x="59.50" y="220.00" width="1.30" height="1.30" fill="#462922"/><rect x="60.75" y="220.00" width="1.30" height="1.30" fill="#a96a5a"/><rect x="62.00" y="220.00" width="1.30" height="1.30" fill="#462e27"/><rect x="63.25" y="220.00" width="1.30" height="1.30" fill="#a98275"/><rect x="64.50" y="220.00" width="1.30" height="1.30" fill="#473833"/><rect x="65.75" y="220.00" width="1.30" height="1.30" fill="#bc9b8f"/><rect x="67.00" y="220.00" width="1.30" height="1.30" fill="#ddc6bd"/><rect x="68.25" y="220.00" width="1.30" height="1.30" fill="#ddc6bb"/><rect x="25.75" y="221.25" width="1.30" height="1.30" fill="#6a605b"/><rect x="27.00" y="221.25" width="1.30" height="1.30" fill="#fee0d2"/><rect x="28.25" y="221.25" width="1.30" height="1.30" fill="#6a5a53"/><rect x="29.50" y="221.25" width="1.30" height="1.30" fill="#fcbaa0"/><rect x="30.75" y="221.25" width="1.30" height="1.30" fill="#694e44"/><rect x="32.00" y="221.25" width="1.30" height="1.30" fill="#fc9878"/><rect x="33.25" y="221.25" width="1.30" height="1.30" fill="#694c41"/><rect x="34.50" y="221.25" width="1.30" height="1.30" fill="#fc9879"/><rect x="35.75" y="221.25" width="1.30" height="1.30" fill="#69382b"/><rect x="37.00" y="221.25" width="1.30" height="1.30" fill="#fcac90"/><rect x="38.25" y="221.25" width="1.30" height="1.30" fill="#693628"/><rect x="39.50" y="221.25" width="1.30" height="1.30" fill="#fcb89d"/><rect x="40.75" y="221.25" width="1.30" height="1.30" fill="#69473b"/><rect x="42.00" y="221.25" width="1.30" height="1.30" fill="#fdc9b3"/><rect x="43.25" y="221.25" width="1.30" height="1.30" fill="#695046"/><rect x="44.50" y="221.25" width="1.30" height="1.30" fill="#fdd7c6"/><rect x="45.75" y="221.25" width="1.30" height="1.30" fill="#6a5c56"/><rect x="47.00" y="221.25" width="1.30" height="1.30" fill="#fee6da"/><rect x="48.25" y="221.25" width="1.30" height="1.30" fill="#fee7dc"/><rect x="49.50" y="221.25" width="1.30" height="1.30" fill="#e7cfc4"/><rect x="50.75" y="221.25" width="1.30" height="1.30" fill="#dac2b8"/><rect x="52.00" y="221.25" width="1.30" height="1.30" fill="#d1b6ac"/><rect x="53.25" y="221.25" width="1.30" height="1.30" fill="#483934"/><rect x="54.50" y="221.25" width="1.30" height="1.30" fill="#b29083"/><rect x="55.75" y="221.25" width="1.30" height="1.30" fill="#46322b"/><rect x="57.00" y="221.25" width="1.30" height="1.30" fill="#a97f70"/><rect x="58.25" y="221.25" width="1.30" height="1.30" fill="#46342e"/><rect x="59.50" y="221.25" width="1.30" height="1.30" fill="#a97d6e"/><rect x="60.75" y="221.25" width="1.30" height="1.30" fill="#462f28"/><rect x="62.00" y="221.25" width="1.30" height="1.30" fill="#a97463"/><rect x="63.25" y="221.25" width="1.30" height="1.30" fill="#463630"/><rect x="64.50" y="221.25" width="1.30" height="1.30" fill="#a98679"/><rect x="65.75" y="221.25" width="1.30" height="1.30" fill="#564945"/><rect x="67.00" y="221.25" width="1.30" height="1.30" fill="#d1b6ac"/><rect x="25.75" y="222.50" width="1.30" height="1.30" fill="#fee7dc"/><rect x="27.00" y="222.50" width="1.30" height="1.30" fill="#6a5b55"/><rect x="28.25" y="222.50" width="1.30" height="1.30" fill="#fdd1be"/><rect x="29.50" y="222.50" width="1.30" height="1.30" fill="#69493e"/><rect x="30.75" y="222.50" width="1.30" height="1.30" fill="#fcc0a7"/><rect x="32.00" y="222.50" width="1.30" height="1.30" fill="#694033"/><rect x="33.25" y="222.50" width="1.30" height="1.30" fill="#fb6d4d"/><rect x="34.50" y="222.50" width="1.30" height="1.30" fill="#692e21"/><rect x="35.75" y="222.50" width="1.30" height="1.30" fill="#fb6949"/><rect x="37.00" y="222.50" width="1.30" height="1.30" fill="#69392c"/><rect x="38.25" y="222.50" width="1.30" height="1.30" fill="#fc8969"/><rect x="39.50" y="222.50" width="1.30" height="1.30" fill="#69392b"/><rect x="40.75" y="222.50" width="1.30" height="1.30" fill="#fb6c4c"/><rect x="42.00" y="222.50" width="1.30" height="1.30" fill="#69372a"/><rect x="43.25" y="222.50" width="1.30" height="1.30" fill="#fcba9f"/><rect x="44.50" y="222.50" width="1.30" height="1.30" fill="#69493e"/><rect x="45.75" y="222.50" width="1.30" height="1.30" fill="#fedbcc"/><rect x="47.00" y="222.50" width="1.30" height="1.30" fill="#6a5a54"/><rect x="48.25" y="222.50" width="1.30" height="1.30" fill="#fedaca"/><rect x="49.50" y="222.50" width="1.30" height="1.30" fill="#645954"/><rect x="50.75" y="222.50" width="1.30" height="1.30" fill="#c6a79b"/><rect x="52.00" y="222.50" width="1.30" height="1.30" fill="#51433e"/><rect x="53.25" y="222.50" width="1.30" height="1.30" fill="#c8aa9f"/><rect x="54.50" y="222.50" width="1.30" height="1.30" fill="#493a34"/><rect x="55.75" y="222.50" width="1.30" height="1.30" fill="#a98274"/><rect x="57.00" y="222.50" width="1.30" height="1.30" fill="#463630"/><rect x="58.25" y="222.50" width="1.30" height="1.30" fill="#a97767"/><rect x="59.50" y="222.50" width="1.30" height="1.30" fill="#46352f"/><rect x="60.75" y="222.50" width="1.30" height="1.30" fill="#a97868"/><rect x="62.00" y="222.50" width="1.30" height="1.30" fill="#463731"/><rect x="63.25" y="222.50" width="1.30" height="1.30" fill="#b9988b"/><rect x="64.50" y="222.50" width="1.30" height="1.30" fill="#4d3f3a"/><rect x="65.75" y="222.50" width="1.30" height="1.30" fill="#d8bfb5"/><rect x="67.00" y="222.50" width="1.30" height="1.30" fill="#dec7bd"/><rect x="25.75" y="223.75" width="1.30" height="1.30" fill="#fee7dc"/><rect x="27.00" y="223.75" width="1.30" height="1.30" fill="#fed9c9"/><rect x="28.25" y="223.75" width="1.30" height="1.30" fill="#6a5d56"/><rect x="29.50" y="223.75" width="1.30" height="1.30" fill="#fcad91"/><rect x="30.75" y="223.75" width="1.30" height="1.30" fill="#69463a"/><rect x="32.00" y="223.75" width="1.30" height="1.30" fill="#fb7c5c"/><rect x="33.25" y="223.75" width="1.30" height="1.30" fill="#692f22"/><rect x="34.50" y="223.75" width="1.30" height="1.30" fill="#f44d37"/><rect x="35.75" y="223.75" width="1.30" height="1.30" fill="#692c1f"/><rect x="37.00" y="223.75" width="1.30" height="1.30" fill="#df2b25"/><rect x="38.25" y="223.75" width="1.30" height="1.30" fill="#692c1e"/><rect x="39.50" y="223.75" width="1.30" height="1.30" fill="#f96446"/><rect x="40.75" y="223.75" width="1.30" height="1.30" fill="#69382a"/><rect x="42.00" y="223.75" width="1.30" height="1.30" fill="#fb7959"/><rect x="43.25" y="223.75" width="1.30" height="1.30" fill="#69382b"/><rect x="44.50" y="223.75" width="1.30" height="1.30" fill="#fcab8f"/><rect x="45.75" y="223.75" width="1.30" height="1.30" fill="#694438"/><rect x="47.00" y="223.75" width="1.30" height="1.30" fill="#fdd3c1"/><rect x="48.25" y="223.75" width="1.30" height="1.30" fill="#6a564e"/><rect x="49.50" y="223.75" width="1.30" height="1.30" fill="#f3d2c4"/><rect x="50.75" y="223.75" width="1.30" height="1.30" fill="#554641"/><rect x="52.00" y="223.75" width="1.30" height="1.30" fill="#b08d80"/><rect x="53.25" y="223.75" width="1.30" height="1.30" fill="#463832"/><rect x="54.50" y="223.75" width="1.30" height="1.30" fill="#b9988b"/><rect x="55.75" y="223.75" width="1.30" height="1.30" fill="#463732"/><rect x="57.00" y="223.75" width="1.30" height="1.30" fill="#a97f70"/><rect x="58.25" y="223.75" width="1.30" height="1.30" fill="#46322b"/><rect x="59.50" y="223.75" width="1.30" height="1.30" fill="#a98679"/><rect x="60.75" y="223.75" width="1.30" height="1.30" fill="#46352f"/><rect x="62.00" y="223.75" width="1.30" height="1.30" fill="#a98375"/><rect x="63.25" y="223.75" width="1.30" height="1.30" fill="#473833"/><rect x="64.50" y="223.75" width="1.30" height="1.30" fill="#cbafa3"/><rect x="65.75" y="223.75" width="1.30" height="1.30" fill="#574c47"/><rect x="25.75" y="225.00" width="1.30" height="1.30" fill="#fee6db"/><rect x="27.00" y="225.00" width="1.30" height="1.30" fill="#6a5d56"/><rect x="28.25" y="225.00" width="1.30" height="1.30" fill="#fdd0bd"/><rect x="29.50" y="225.00" width="1.30" height="1.30" fill="#694c41"/><rect x="30.75" y="225.00" width="1.30" height="1.30" fill="#fc9c7e"/><rect x="32.00" y="225.00" width="1.30" height="1.30" fill="#69392c"/><rect x="33.25" y="225.00" width="1.30" height="1.30" fill="#fb7959"/><rect x="34.50" y="225.00" width="1.30" height="1.30" fill="#621711"/><rect x="35.75" y="225.00" width="1.30" height="1.30" fill="#d72422"/><rect x="37.00" y="225.00" width="1.30" height="1.30" fill="#50080a"/><rect x="38.25" y="225.00" width="1.30" height="1.30" fill="#f03d2e"/><rect x="39.50" y="225.00" width="1.30" height="1.30" fill="#4a0709"/><rect x="40.75" y="225.00" width="1.30" height="1.30" fill="#e73329"/><rect x="42.00" y="225.00" width="1.30" height="1.30" fill="#590e0d"/><rect x="43.25" y="225.00" width="1.30" height="1.30" fill="#fc8666"/><rect x="44.50" y="225.00" width="1.30" height="1.30" fill="#68271b"/><rect x="45.75" y="225.00" width="1.30" height="1.30" fill="#fc8767"/><rect x="47.00" y="225.00" width="1.30" height="1.30" fill="#694d42"/><rect x="48.25" y="225.00" width="1.30" height="1.30" fill="#fcaf93"/><rect x="49.50" y="225.00" width="1.30" height="1.30" fill="#6a564d"/><rect x="50.75" y="225.00" width="1.30" height="1.30" fill="#cea99a"/><rect x="52.00" y="225.00" width="1.30" height="1.30" fill="#463832"/><rect x="53.25" y="225.00" width="1.30" height="1.30" fill="#af8c7f"/><rect x="54.50" y="225.00" width="1.30" height="1.30" fill="#463731"/><rect x="55.75" y="225.00" width="1.30" height="1.30" fill="#a97c6d"/><rect x="57.00" y="225.00" width="1.30" height="1.30" fill="#46352f"/><rect x="58.25" y="225.00" width="1.30" height="1.30" fill="#a97f70"/><rect x="59.50" y="225.00" width="1.30" height="1.30" fill="#463731"/><rect x="60.75" y="225.00" width="1.30" height="1.30" fill="#a98274"/><rect x="62.00" y="225.00" width="1.30" height="1.30" fill="#463832"/><rect x="63.25" y="225.00" width="1.30" height="1.30" fill="#bd9d90"/><rect x="64.50" y="225.00" width="1.30" height="1.30" fill="#544742"/><rect x="65.75" y="225.00" width="1.30" height="1.30" fill="#d9c1b6"/><rect x="27.00" y="226.25" width="1.30" height="1.30" fill="#fee3d6"/><rect x="28.25" y="226.25" width="1.30" height="1.30" fill="#6a5e57"/><rect x="29.50" y="226.25" width="1.30" height="1.30" fill="#fdccb8"/><rect x="30.75" y="226.25" width="1.30" height="1.30" fill="#694438"/><rect x="32.00" y="226.25" width="1.30" height="1.30" fill="#fc9b7d"/><rect x="33.25" y="226.25" width="1.30" height="1.30" fill="#67261a"/><rect x="34.50" y="226.25" width="1.30" height="1.30" fill="#fb7c5c"/><rect x="35.75" y="226.25" width="1.30" height="1.30" fill="#5a0f0e"/><rect x="37.00" y="226.25" width="1.30" height="1.30" fill="#f6553d"/><rect x="38.25" y="226.25" width="1.30" height="1.30" fill="#590d0d"/><rect x="39.50" y="226.25" width="1.30" height="1.30" fill="#f75b40"/><rect x="40.75" y="226.25" width="1.30" height="1.30" fill="#661e16"/><rect x="42.00" y="226.25" width="1.30" height="1.30" fill="#bc141a"/><rect x="43.25" y="226.25" width="1.30" height="1.30" fill="#662017"/><rect x="44.50" y="226.25" width="1.30" height="1.30" fill="#f24734"/><rect x="45.75" y="226.25" width="1.30" height="1.30" fill="#693c2f"/><rect x="47.00" y="226.25" width="1.30" height="1.30" fill="#fc9d7e"/><rect x="48.25" y="226.25" width="1.30" height="1.30" fill="#694e42"/><rect x="49.50" y="226.25" width="1.30" height="1.30" fill="#fcae92"/><rect x="50.75" y="226.25" width="1.30" height="1.30" fill="#543a31"/><rect x="52.00" y="226.25" width="1.30" height="1.30" fill="#a97f71"/><rect x="53.25" y="226.25" width="1.30" height="1.30" fill="#463630"/><rect x="54.50" y="226.25" width="1.30" height="1.30" fill="#a97a6a"/><rect x="55.75" y="226.25" width="1.30" height="1.30" fill="#46332c"/><rect x="57.00" y="226.25" width="1.30" height="1.30" fill="#a97f71"/><rect x="58.25" y="226.25" width="1.30" height="1.30" fill="#4b3c37"/><rect x="59.50" y="226.25" width="1.30" height="1.30" fill="#a98477"/><rect x="60.75" y="226.25" width="1.30" height="1.30" fill="#4c3e38"/><rect x="62.00" y="226.25" width="1.30" height="1.30" fill="#b39083"/><rect x="63.25" y="226.25" width="1.30" height="1.30" fill="#574c48"/><rect x="64.50" y="226.25" width="1.30" height="1.30" fill="#d7bfb4"/><rect x="28.25" y="227.50" width="1.30" height="1.30" fill="#fee2d5"/><rect x="29.50" y="227.50" width="1.30" height="1.30" fill="#6a5d56"/><rect x="30.75" y="227.50" width="1.30" height="1.30" fill="#fdd1bf"/><rect x="32.00" y="227.50" width="1.30" height="1.30" fill="#69483c"/><rect x="33.25" y="227.50" width="1.30" height="1.30" fill="#fc8161"/><rect x="34.50" y="227.50" width="1.30" height="1.30" fill="#68291c"/><rect x="35.75" y="227.50" width="1.30" height="1.30" fill="#fb6b4b"/><rect x="37.00" y="227.50" width="1.30" height="1.30" fill="#692c1e"/><rect x="38.25" y="227.50" width="1.30" height="1.30" fill="#e12e26"/><rect x="39.50" y="227.50" width="1.30" height="1.30" fill="#4b070a"/><rect x="40.75" y="227.50" width="1.30" height="1.30" fill="#f34c37"/><rect x="42.00" y="227.50" width="1.30" height="1.30" fill="#550a0c"/><rect x="43.25" y="227.50" width="1.30" height="1.30" fill="#f96446"/><rect x="44.50" y="227.50" width="1.30" height="1.30" fill="#692c1e"/><rect x="45.75" y="227.50" width="1.30" height="1.30" fill="#fc9171"/><rect x="47.00" y="227.50" width="1.30" height="1.30" fill="#693c2f"/><rect x="48.25" y="227.50" width="1.30" height="1.30" fill="#fc997a"/><rect x="49.50" y="227.50" width="1.30" height="1.30" fill="#643529"/><rect x="50.75" y="227.50" width="1.30" height="1.30" fill="#cc7b64"/><rect x="52.00" y="227.50" width="1.30" height="1.30" fill="#483630"/><rect x="53.25" y="227.50" width="1.30" height="1.30" fill="#a97e70"/><rect x="54.50" y="227.50" width="1.30" height="1.30" fill="#46312a"/><rect x="55.75" y="227.50" width="1.30" height="1.30" fill="#a98376"/><rect x="57.00" y="227.50" width="1.30" height="1.30" fill="#463731"/><rect x="58.25" y="227.50" width="1.30" height="1.30" fill="#a98578"/><rect x="59.50" y="227.50" width="1.30" height="1.30" fill="#50433d"/><rect x="60.75" y="227.50" width="1.30" height="1.30" fill="#c6a89c"/><rect x="62.00" y="227.50" width="1.30" height="1.30" fill="#564a46"/><rect x="63.25" y="227.50" width="1.30" height="1.30" fill="#d9c1b6"/><rect x="64.50" y="227.50" width="1.30" height="1.30" fill="#dbc3b9"/><rect x="28.25" y="228.75" width="1.30" height="1.30" fill="#fee8dd"/><rect x="29.50" y="228.75" width="1.30" height="1.30" fill="#fee4d8"/><rect x="30.75" y="228.75" width="1.30" height="1.30" fill="#6a564d"/><rect x="32.00" y="228.75" width="1.30" height="1.30" fill="#fcbea5"/><rect x="33.25" y="228.75" width="1.30" height="1.30" fill="#694c41"/><rect x="34.50" y="228.75" width="1.30" height="1.30" fill="#fc9d7f"/><rect x="35.75" y="228.75" width="1.30" height="1.30" fill="#692b1e"/><rect x="37.00" y="228.75" width="1.30" height="1.30" fill="#fb7252"/><rect x="38.25" y="228.75" width="1.30" height="1.30" fill="#692e21"/><rect x="39.50" y="228.75" width="1.30" height="1.30" fill="#d11e20"/><rect x="40.75" y="228.75" width="1.30" height="1.30" fill="#621611"/><rect x="42.00" y="228.75" width="1.30" height="1.30" fill="#ed3a2b"/><rect x="43.25" y="228.75" width="1.30" height="1.30" fill="#621611"/><rect x="44.50" y="228.75" width="1.30" height="1.30" fill="#e63228"/><rect x="45.75" y="228.75" width="1.30" height="1.30" fill="#69392b"/><rect x="47.00" y="228.75" width="1.30" height="1.30" fill="#fc8767"/><rect x="48.25" y="228.75" width="1.30" height="1.30" fill="#694539"/><rect x="49.50" y="228.75" width="1.30" height="1.30" fill="#ef9175"/><rect x="50.75" y="228.75" width="1.30" height="1.30" fill="#56372d"/><rect x="52.00" y="228.75" width="1.30" height="1.30" fill="#b07260"/><rect x="53.25" y="228.75" width="1.30" height="1.30" fill="#46312a"/><rect x="54.50" y="228.75" width="1.30" height="1.30" fill="#a9796a"/><rect x="55.75" y="228.75" width="1.30" height="1.30" fill="#46352f"/><rect x="57.00" y="228.75" width="1.30" height="1.30" fill="#a98173"/><rect x="58.25" y="228.75" width="1.30" height="1.30" fill="#4a3c37"/><rect x="59.50" y="228.75" width="1.30" height="1.30" fill="#ad897d"/><rect x="60.75" y="228.75" width="1.30" height="1.30" fill="#50423d"/><rect x="62.00" y="228.75" width="1.30" height="1.30" fill="#cdb2a6"/><rect x="30.75" y="230.00" width="1.30" height="1.30" fill="#fee3d7"/><rect x="32.00" y="230.00" width="1.30" height="1.30" fill="#6a5e58"/><rect x="33.25" y="230.00" width="1.30" height="1.30" fill="#fcc1a9"/><rect x="34.50" y="230.00" width="1.30" height="1.30" fill="#695148"/><rect x="35.75" y="230.00" width="1.30" height="1.30" fill="#fc9070"/><rect x="37.00" y="230.00" width="1.30" height="1.30" fill="#693225"/><rect x="38.25" y="230.00" width="1.30" height="1.30" fill="#fb7757"/><rect x="39.50" y="230.00" width="1.30" height="1.30" fill="#693c2f"/><rect x="40.75" y="230.00" width="1.30" height="1.30" fill="#f24633"/><rect x="42.00" y="230.00" width="1.30" height="1.30" fill="#69392b"/><rect x="43.25" y="230.00" width="1.30" height="1.30" fill="#f96245"/><rect x="44.50" y="230.00" width="1.30" height="1.30" fill="#692f22"/><rect x="45.75" y="230.00" width="1.30" height="1.30" fill="#fc9778"/><rect x="47.00" y="230.00" width="1.30" height="1.30" fill="#693225"/><rect x="48.25" y="230.00" width="1.30" height="1.30" fill="#fb7e5e"/><rect x="49.50" y="230.00" width="1.30" height="1.30" fill="#693b2e"/><rect x="50.75" y="230.00" width="1.30" height="1.30" fill="#d18973"/><rect x="52.00" y="230.00" width="1.30" height="1.30" fill="#4b332c"/><rect x="53.25" y="230.00" width="1.30" height="1.30" fill="#a97767"/><rect x="54.50" y="230.00" width="1.30" height="1.30" fill="#46352f"/><rect x="55.75" y="230.00" width="1.30" height="1.30" fill="#a97a6a"/><rect x="57.00" y="230.00" width="1.30" height="1.30" fill="#46342e"/><rect x="58.25" y="230.00" width="1.30" height="1.30" fill="#a98578"/><rect x="59.50" y="230.00" width="1.30" height="1.30" fill="#4b3d37"/><rect x="60.75" y="230.00" width="1.30" height="1.30" fill="#d4baaf"/><rect x="62.00" y="230.00" width="1.30" height="1.30" fill="#594e49"/><rect x="33.25" y="231.25" width="1.30" height="1.30" fill="#6a5f5a"/><rect x="34.50" y="231.25" width="1.30" height="1.30" fill="#fdcbb6"/><rect x="35.75" y="231.25" width="1.30" height="1.30" fill="#6a5248"/><rect x="37.00" y="231.25" width="1.30" height="1.30" fill="#fc9e7f"/><rect x="38.25" y="231.25" width="1.30" height="1.30" fill="#693b2e"/><rect x="39.50" y="231.25" width="1.30" height="1.30" fill="#fc8464"/><rect x="40.75" y="231.25" width="1.30" height="1.30" fill="#693b2d"/><rect x="42.00" y="231.25" width="1.30" height="1.30" fill="#fb7151"/><rect x="43.25" y="231.25" width="1.30" height="1.30" fill="#694235"/><rect x="44.50" y="231.25" width="1.30" height="1.30" fill="#fca284"/><rect x="45.75" y="231.25" width="1.30" height="1.30" fill="#69392c"/><rect x="47.00" y="231.25" width="1.30" height="1.30" fill="#fc9474"/><rect x="48.25" y="231.25" width="1.30" height="1.30" fill="#69473c"/><rect x="49.50" y="231.25" width="1.30" height="1.30" fill="#fcad91"/><rect x="50.75" y="231.25" width="1.30" height="1.30" fill="#59433a"/><rect x="52.00" y="231.25" width="1.30" height="1.30" fill="#ba7a66"/><rect x="53.25" y="231.25" width="1.30" height="1.30" fill="#46322c"/><rect x="54.50" y="231.25" width="1.30" height="1.30" fill="#a97969"/><rect x="55.75" y="231.25" width="1.30" height="1.30" fill="#46342e"/><rect x="57.00" y="231.25" width="1.30" height="1.30" fill="#b08d80"/><rect x="58.25" y="231.25" width="1.30" height="1.30" fill="#4c3e39"/><rect x="59.50" y="231.25" width="1.30" height="1.30" fill="#d0b5a9"/><rect x="60.75" y="231.25" width="1.30" height="1.30" fill="#594e49"/><rect x="33.25" y="232.50" width="1.30" height="1.30" fill="#fee5da"/><rect x="34.50" y="232.50" width="1.30" height="1.30" fill="#fee6da"/><rect x="35.75" y="232.50" width="1.30" height="1.30" fill="#fedfd0"/><rect x="37.00" y="232.50" width="1.30" height="1.30" fill="#6a544c"/><rect x="38.25" y="232.50" width="1.30" height="1.30" fill="#fcbda3"/><rect x="39.50" y="232.50" width="1.30" height="1.30" fill="#694d41"/><rect x="40.75" y="232.50" width="1.30" height="1.30" fill="#fca98c"/><rect x="42.00" y="232.50" width="1.30" height="1.30" fill="#695147"/><rect x="43.25" y="232.50" width="1.30" height="1.30" fill="#fcbea5"/><rect x="44.50" y="232.50" width="1.30" height="1.30" fill="#693d2f"/><rect x="45.75" y="232.50" width="1.30" height="1.30" fill="#fc9d7e"/><rect x="47.00" y="232.50" width="1.30" height="1.30" fill="#695148"/><rect x="48.25" y="232.50" width="1.30" height="1.30" fill="#fdc5ae"/><rect x="49.50" y="232.50" width="1.30" height="1.30" fill="#695046"/><rect x="50.75" y="232.50" width="1.30" height="1.30" fill="#da937c"/><rect x="52.00" y="232.50" width="1.30" height="1.30" fill="#513f38"/><rect x="53.25" y="232.50" width="1.30" height="1.30" fill="#ab8273"/><rect x="54.50" y="232.50" width="1.30" height="1.30" fill="#46352f"/><rect x="55.75" y="232.50" width="1.30" height="1.30" fill="#ac897c"/><rect x="57.00" y="232.50" width="1.30" height="1.30" fill="#4a3c36"/><rect x="58.25" y="232.50" width="1.30" height="1.30" fill="#d2b8ad"/><rect x="35.75" y="233.75" width="1.30" height="1.30" fill="#fee6db"/><rect x="37.00" y="233.75" width="1.30" height="1.30" fill="#fee8de"/><rect x="38.25" y="233.75" width="1.30" height="1.30" fill="#6a5f5a"/><rect x="39.50" y="233.75" width="1.30" height="1.30" fill="#fee1d3"/><rect x="40.75" y="233.75" width="1.30" height="1.30" fill="#6a564d"/><rect x="42.00" y="233.75" width="1.30" height="1.30" fill="#fdcab5"/><rect x="43.25" y="233.75" width="1.30" height="1.30" fill="#6a544b"/><rect x="44.50" y="233.75" width="1.30" height="1.30" fill="#fdc9b4"/><rect x="45.75" y="233.75" width="1.30" height="1.30" fill="#6a544c"/><rect x="47.00" y="233.75" width="1.30" height="1.30" fill="#fdc5ae"/><rect x="48.25" y="233.75" width="1.30" height="1.30" fill="#6a5249"/><rect x="49.50" y="233.75" width="1.30" height="1.30" fill="#fcbea6"/><rect x="50.75" y="233.75" width="1.30" height="1.30" fill="#5f4a41"/><rect x="52.00" y="233.75" width="1.30" height="1.30" fill="#ca9f8e"/><rect x="53.25" y="233.75" width="1.30" height="1.30" fill="#4c3c36"/><rect x="54.50" y="233.75" width="1.30" height="1.30" fill="#b39184"/><rect x="55.75" y="233.75" width="1.30" height="1.30" fill="#51433f"/><rect x="57.00" y="233.75" width="1.30" height="1.30" fill="#dbc3ba"/><rect x="58.25" y="233.75" width="1.30" height="1.30" fill="#5a504b"/><rect x="39.50" y="235.00" width="1.30" height="1.30" fill="#6a605b"/><rect x="40.75" y="235.00" width="1.30" height="1.30" fill="#fee0d3"/><rect x="42.00" y="235.00" width="1.30" height="1.30" fill="#6a605b"/><rect x="43.25" y="235.00" width="1.30" height="1.30" fill="#fee1d4"/><rect x="44.50" y="235.00" width="1.30" height="1.30" fill="#6a5b55"/><rect x="45.75" y="235.00" width="1.30" height="1.30" fill="#fedaca"/><rect x="47.00" y="235.00" width="1.30" height="1.30" fill="#6a5b54"/><rect x="48.25" y="235.00" width="1.30" height="1.30" fill="#fed9c8"/><rect x="49.50" y="235.00" width="1.30" height="1.30" fill="#6a5e59"/><rect x="50.75" y="235.00" width="1.30" height="1.30" fill="#f4d8cc"/><rect x="52.00" y="235.00" width="1.30" height="1.30" fill="#625853"/><rect x="53.25" y="235.00" width="1.30" height="1.30" fill="#d9bcb0"/><rect x="54.50" y="235.00" width="1.30" height="1.30" fill="#ddc5ba"/><rect x="57.00" y="235.00" width="1.30" height="1.30" fill="#dac2b8"/><rect x="45.75" y="236.25" width="1.30" height="1.30" fill="#fee8dd"/><rect x="49.50" y="236.25" width="1.30" height="1.30" fill="#fee6da"/><rect x="53.25" y="236.25" width="1.30" height="1.30" fill="#ecd5cb"/></g>
<path d="M52.00,169.60L102.00,181.40M49.78,174.80L99.24,187.14M47.44,179.93L96.38,192.81M44.99,184.98L93.42,198.43M42.43,189.97L90.37,203.99M39.76,194.88L87.22,209.49M36.98,199.73L83.97,214.93M34.08,204.50L80.64,220.30M31.07,209.20L77.20,225.62M27.94,213.83L73.67,230.88M24.71,218.39L70.04,236.08M21.36,222.88L66.32,241.22M17.90,227.30L62.50,246.30M52.00,169.60L49.78,174.80L47.44,179.93L44.99,184.98L42.43,189.97L39.76,194.88L36.98,199.73L34.08,204.50L31.07,209.20L27.94,213.83L24.71,218.39L21.36,222.88L17.90,227.30M102.00,181.40L99.24,187.14L96.38,192.81L93.42,198.43L90.37,203.99L87.22,209.49L83.97,214.93L80.64,220.30L77.20,225.62L73.67,230.88L70.04,236.08L66.32,241.22L62.50,246.30" fill="none" stroke="#111" stroke-width="0.72"/>
<path d="M80.90,166.30L79.91,168.76L78.89,171.22L77.84,173.68L76.76,176.13L75.66,178.59L74.52,181.04L73.35,183.49L72.15,185.94L70.92,188.39L69.66,190.84L68.36,193.29L67.04,195.74L65.69,198.19L64.31,200.63L62.90,203.08L61.46,205.52L59.99,207.96L58.48,210.40L56.95,212.84L55.39,215.28L53.80,217.71L52.17,220.15L50.52,222.59L48.84,225.02L47.12,227.45L45.38,229.88L43.60,232.31L41.80,234.74L39.96,237.17L38.10,239.60" fill="none" stroke="#000" stroke-width="0.9"/>
</g>
<rect x="5.20" y="144.60" width="118.40" height="106.40" fill="none" stroke="#333" stroke-width="0.7"/>
<text x="45.30" y="177.80" font-size="5.43" text-anchor="start" fill="#111" textLength="28.00" lengthAdjust="spacing" stroke="#222" stroke-width="0.15"><tspan>release site</tspan></text>
<path d="M75,176.2h4M77,174.2v4" stroke="#222" stroke-width="0.8"/>
<rect x="52.3" y="146.8" width="68.2" height="17.2" rx="1" fill="#fff" fill-opacity="0.8" stroke="#d8d8d8" stroke-width="0.5"/>
<path d="M53.8,150.8h10.5" stroke="#000" stroke-width="0.9"/>
<text x="68.00" y="152.50" font-size="5.26" text-anchor="start" fill="#000" textLength="27.75" lengthAdjust="spacing"><tspan>Center lines</tspan></text>
<path d="M58.1,158.75h2.4M59.3,157.55v2.4" stroke="#555" stroke-width="0.4"/>
<text x="68.00" y="160.50" font-size="5.26" text-anchor="start" fill="#000" textLength="51.00" lengthAdjust="spacing"><tspan>release site  (465 px)</tspan></text>
<text x="72.30" y="142.60" font-size="6.72" text-anchor="middle" fill="#000" textLength="8.49" lengthAdjust="spacing"><tspan>(b)</tspan></text>
<defs><linearGradient id="gradR" x1="0" y1="1" x2="0" y2="0">
<stop offset="0.0" stop-color="rgb(255, 245, 240)"/>
<stop offset="0.125" stop-color="rgb(254, 224, 210)"/>
<stop offset="0.25" stop-color="rgb(252, 187, 161)"/>
<stop offset="0.375" stop-color="rgb(252, 146, 114)"/>
<stop offset="0.5" stop-color="rgb(251, 106, 74)"/>
<stop offset="0.625" stop-color="rgb(239, 59, 44)"/>
<stop offset="0.75" stop-color="rgb(203, 24, 29)"/>
<stop offset="0.875" stop-color="rgb(165, 15, 21)"/>
<stop offset="1.0" stop-color="rgb(103, 0, 13)"/>
</linearGradient></defs>
<rect x="132.4" y="143.8" width="6" height="107.5" fill="url(#gradR)" stroke="#444" stroke-width="0.5"/>
<path d="M138.4,251.50h2.2" stroke="#222" stroke-width="0.6"/>
<text x="141.90" y="253.80" font-size="6.38" text-anchor="start" fill="#000" textLength="12.69" lengthAdjust="spacing"><tspan>0.00</tspan></text>
<path d="M138.4,219.60h2.2" stroke="#222" stroke-width="0.6"/>
<text x="141.90" y="221.90" font-size="6.38" text-anchor="start" fill="#000" textLength="12.69" lengthAdjust="spacing"><tspan>0.01</tspan></text>
<path d="M138.4,186.90h2.2" stroke="#222" stroke-width="0.6"/>
<text x="141.90" y="189.20" font-size="6.38" text-anchor="start" fill="#000" textLength="12.69" lengthAdjust="spacing"><tspan>0.02</tspan></text>
<path d="M138.4,154.60h2.2" stroke="#222" stroke-width="0.6"/>
<text x="141.90" y="156.90" font-size="6.38" text-anchor="start" fill="#000" textLength="12.69" lengthAdjust="spacing"><tspan>0.03</tspan></text>
<text x="162.60" y="198.00" font-size="6.61" text-anchor="middle" fill="#000" textLength="65.20" lengthAdjust="spacing" transform="rotate(-90 162.60 198.00)"><tspan>CH</tspan><tspan dy="1.30" font-size="4.63">4</tspan><tspan dy="-1.30"> columns [kg m</tspan><tspan dy="-2.48" font-size="4.63">−2</tspan><tspan dy="2.48">]</tspan></text>
<defs><clipPath id="cc0"><rect x="198.2" y="11.3" width="88.4" height="51.7"/></clipPath></defs>
<g clip-path="url(#cc0)">
<path d="M198.20,58.70L198.94,58.70L199.67,58.70L200.41,58.70L201.15,58.70L201.88,58.70L202.62,58.70L203.36,58.70L204.09,58.70L204.83,58.70L205.57,58.70L206.30,58.70L207.04,58.70L207.78,58.70L208.51,58.70L209.25,58.70L209.99,58.70L210.72,58.70L211.46,58.70L212.20,58.70L212.93,58.70L213.67,58.70L214.41,58.70L215.14,58.70L215.88,58.70L216.62,58.70L217.35,58.70L218.09,58.70L218.83,58.70L219.56,58.70L220.30,58.70L221.04,58.70L221.77,58.70L222.51,58.70L223.25,58.70L223.98,58.70L224.72,58.70L225.46,58.70L226.19,58.70L226.93,58.70L227.67,58.70L228.40,58.70L229.14,58.70L229.88,58.70L230.61,58.69L231.35,58.68L232.09,58.65L232.82,58.57L233.56,58.40L234.30,58.06L235.03,57.41L235.77,56.29L236.51,54.46L237.24,51.73L237.98,47.97L238.72,43.23L239.45,37.82L240.19,32.33L240.93,27.51L241.66,24.16L242.40,22.89L243.14,23.94L243.87,27.11L244.61,31.83L245.35,37.30L246.08,42.74L246.82,47.56L247.56,51.42L248.29,54.24L249.03,56.15L249.77,57.33L250.50,58.01L251.24,58.38L251.98,58.56L252.71,58.64L253.45,58.68L254.19,58.69L254.92,58.70L255.66,58.70L256.40,58.70L257.13,58.70L257.87,58.70L258.61,58.70L259.34,58.70L260.08,58.70L260.82,58.70L261.55,58.70L262.29,58.70L263.03,58.70L263.76,58.70L264.50,58.70L265.24,58.70L265.97,58.70L266.71,58.70L267.45,58.70L268.18,58.70L268.92,58.70L269.66,58.70L270.39,58.70L271.13,58.70L271.87,58.70L272.60,58.70L273.34,58.70L274.08,58.70L274.81,58.70L275.55,58.70L276.29,58.70L277.02,58.70L277.76,58.70L278.50,58.70L279.23,58.70L279.97,58.70L280.71,58.70L281.44,58.70L282.18,58.70L282.92,58.70L283.65,58.70L284.39,58.70L285.13,58.70L285.86,58.70L286.60,58.70" fill="none" stroke="#111" stroke-width="1.2"/>
<path d="M212.75,56.23v4.2M222.55,57.13v4.2M242.06,26.31v4.2M265.88,56.43v4.2M209.46,55.89v4.2M236.98,50.42v4.2M263.73,56.19v4.2M260.42,56.59v4.2M220.41,55.83v4.2M204.32,56.88v4.2M203.91,57.47v4.2M232.79,56.71v4.2M219.43,56.68v4.2M219.84,56.56v4.2M237.39,49.77v4.2M220.58,56.59v4.2M219.60,56.91v4.2M203.58,56.52v4.2M269.84,57.11v4.2M216.93,56.79v4.2M282.42,56.48v4.2M228.85,56.75v4.2M260.42,56.82v4.2M236.11,55.00v4.2M269.23,56.76v4.2M249.55,55.34v4.2M273.49,56.34v4.2M249.66,55.61v4.2M204.64,56.57v4.2M235.48,53.70v4.2M215.89,57.17v4.2M256.60,56.78v4.2M232.26,56.96v4.2M265.04,56.43v4.2M244.14,29.52v4.2M204.24,56.33v4.2M205.37,56.91v4.2M250.00,56.83v4.2M233.80,55.98v4.2M281.58,56.21v4.2M264.40,57.33v4.2M220.69,56.79v4.2M243.55,18.93v4.2M239.12,39.07v4.2M223.70,57.51v4.2M202.30,56.88v4.2M265.47,56.26v4.2M261.96,57.32v4.2M267.53,57.09v4.2M236.43,52.69v4.2M206.40,56.26v4.2M218.06,56.96v4.2M242.82,24.65v4.2M229.94,56.56v4.2M245.56,39.04v4.2M239.04,40.85v4.2M204.11,56.57v4.2M249.29,54.18v4.2M271.75,56.40v4.2M268.13,57.25v4.2M222.57,56.29v4.2M208.60,57.08v4.2M203.19,55.96v4.2M222.10,56.54v4.2M210.73,56.85v4.2M207.48,56.85v4.2M214.80,56.83v4.2M224.00,56.64v4.2M259.61,56.92v4.2M240.31,28.67v4.2M203.76,56.90v4.2M217.11,56.34v4.2M210.67,56.23v4.2M218.82,56.87v4.2M251.01,56.15v4.2M203.29,56.67v4.2M213.73,56.64v4.2M259.05,56.82v4.2M256.90,56.86v4.2M281.05,56.67v4.2M266.61,56.87v4.2M254.49,56.62v4.2M233.90,56.50v4.2M253.07,56.72v4.2M206.61,56.90v4.2M272.92,55.65v4.2M226.72,56.39v4.2M278.10,56.86v4.2M262.23,56.85v4.2M202.53,56.45v4.2M243.83,13.42v4.2M243.13,17.87v4.2" stroke="#1f77b4" stroke-width="0.4" fill="none" stroke-opacity="0.8"/>
<g fill="#1f77b4" fill-opacity="0.08" stroke="#1f77b4" stroke-width="0.65" stroke-opacity="0.9"><circle cx="212.75" cy="58.33" r="1.65"/><circle cx="222.55" cy="59.23" r="1.65"/><circle cx="242.06" cy="28.41" r="1.65"/><circle cx="265.88" cy="58.53" r="1.65"/><circle cx="209.46" cy="57.99" r="1.65"/><circle cx="236.98" cy="52.52" r="1.65"/><circle cx="263.73" cy="58.29" r="1.65"/><circle cx="260.42" cy="58.69" r="1.65"/><circle cx="220.41" cy="57.93" r="1.65"/><circle cx="204.32" cy="58.98" r="1.65"/><circle cx="203.91" cy="59.57" r="1.65"/><circle cx="232.79" cy="58.81" r="1.65"/><circle cx="219.43" cy="58.78" r="1.65"/><circle cx="219.84" cy="58.66" r="1.65"/><circle cx="237.39" cy="51.87" r="1.65"/><circle cx="220.58" cy="58.69" r="1.65"/><circle cx="219.60" cy="59.01" r="1.65"/><circle cx="203.58" cy="58.62" r="1.65"/><circle cx="269.84" cy="59.21" r="1.65"/><circle cx="216.93" cy="58.89" r="1.65"/><circle cx="282.42" cy="58.58" r="1.65"/><circle cx="228.85" cy="58.85" r="1.65"/><circle cx="260.42" cy="58.92" r="1.65"/><circle cx="236.11" cy="57.10" r="1.65"/><circle cx="269.23" cy="58.86" r="1.65"/><circle cx="249.55" cy="57.44" r="1.65"/><circle cx="273.49" cy="58.44" r="1.65"/><circle cx="249.66" cy="57.71" r="1.65"/><circle cx="204.64" cy="58.67" r="1.65"/><circle cx="235.48" cy="55.80" r="1.65"/><circle cx="215.89" cy="59.27" r="1.65"/><circle cx="256.60" cy="58.88" r="1.65"/><circle cx="232.26" cy="59.06" r="1.65"/><circle cx="265.04" cy="58.53" r="1.65"/><circle cx="244.14" cy="31.62" r="1.65"/><circle cx="204.24" cy="58.43" r="1.65"/><circle cx="205.37" cy="59.01" r="1.65"/><circle cx="250.00" cy="58.93" r="1.65"/><circle cx="233.80" cy="58.08" r="1.65"/><circle cx="281.58" cy="58.31" r="1.65"/><circle cx="264.40" cy="59.43" r="1.65"/><circle cx="220.69" cy="58.89" r="1.65"/><circle cx="243.55" cy="21.03" r="1.65"/><circle cx="239.12" cy="41.17" r="1.65"/><circle cx="223.70" cy="59.61" r="1.65"/><circle cx="202.30" cy="58.98" r="1.65"/><circle cx="265.47" cy="58.36" r="1.65"/><circle cx="261.96" cy="59.42" r="1.65"/><circle cx="267.53" cy="59.19" r="1.65"/><circle cx="236.43" cy="54.79" r="1.65"/><circle cx="206.40" cy="58.36" r="1.65"/><circle cx="218.06" cy="59.06" r="1.65"/><circle cx="242.82" cy="26.75" r="1.65"/><circle cx="229.94" cy="58.66" r="1.65"/><circle cx="245.56" cy="41.14" r="1.65"/><circle cx="239.04" cy="42.95" r="1.65"/><circle cx="204.11" cy="58.67" r="1.65"/><circle cx="249.29" cy="56.28" r="1.65"/><circle cx="271.75" cy="58.50" r="1.65"/><circle cx="268.13" cy="59.35" r="1.65"/><circle cx="222.57" cy="58.39" r="1.65"/><circle cx="208.60" cy="59.18" r="1.65"/><circle cx="203.19" cy="58.06" r="1.65"/><circle cx="222.10" cy="58.64" r="1.65"/><circle cx="210.73" cy="58.95" r="1.65"/><circle cx="207.48" cy="58.95" r="1.65"/><circle cx="214.80" cy="58.93" r="1.65"/><circle cx="224.00" cy="58.74" r="1.65"/><circle cx="259.61" cy="59.02" r="1.65"/><circle cx="240.31" cy="30.77" r="1.65"/><circle cx="203.76" cy="59.00" r="1.65"/><circle cx="217.11" cy="58.44" r="1.65"/><circle cx="210.67" cy="58.33" r="1.65"/><circle cx="218.82" cy="58.97" r="1.65"/><circle cx="251.01" cy="58.25" r="1.65"/><circle cx="203.29" cy="58.77" r="1.65"/><circle cx="213.73" cy="58.74" r="1.65"/><circle cx="259.05" cy="58.92" r="1.65"/><circle cx="256.90" cy="58.96" r="1.65"/><circle cx="281.05" cy="58.77" r="1.65"/><circle cx="266.61" cy="58.97" r="1.65"/><circle cx="254.49" cy="58.72" r="1.65"/><circle cx="233.90" cy="58.60" r="1.65"/><circle cx="253.07" cy="58.82" r="1.65"/><circle cx="206.61" cy="59.00" r="1.65"/><circle cx="272.92" cy="57.75" r="1.65"/><circle cx="226.72" cy="58.49" r="1.65"/><circle cx="278.10" cy="58.96" r="1.65"/><circle cx="262.23" cy="58.95" r="1.65"/><circle cx="202.53" cy="58.55" r="1.65"/><circle cx="243.83" cy="15.52" r="1.65"/><circle cx="243.13" cy="19.97" r="1.65"/></g>
</g>
<rect x="198.20" y="11.30" width="88.40" height="51.70" fill="none" stroke="#333" stroke-width="0.7"/>
<path d="M207.44,63.00v1.8" stroke="#333" stroke-width="0.6"/>
<path d="M242.43,63.00v1.8" stroke="#333" stroke-width="0.6"/>
<path d="M277.43,63.00v1.8" stroke="#333" stroke-width="0.6"/>
<path d="M198.20,58.70h-1.8" stroke="#333" stroke-width="0.6"/>
<path d="M198.20,33.30h-1.8" stroke="#333" stroke-width="0.6"/>
<text x="198.80" y="17.70" font-size="6.31" text-anchor="start" fill="#000" textLength="21.84" lengthAdjust="spacing"><tspan>0-1.7 m</tspan></text>
<text x="194.70" y="61.10" font-size="6.38" text-anchor="end" fill="#000" textLength="3.63" lengthAdjust="spacing"><tspan>0</tspan></text>
<text x="194.70" y="35.70" font-size="6.38" text-anchor="end" fill="#000" textLength="7.25" lengthAdjust="spacing"><tspan>20</tspan></text>
<text x="182.40" y="37.15" font-size="6.44" text-anchor="middle" fill="#000" textLength="34.23" lengthAdjust="spacing" transform="rotate(-90 182.40 37.15)"><tspan>CH</tspan><tspan dy="1.26" font-size="4.51">4</tspan><tspan dy="-1.26"> [g m</tspan><tspan dy="-2.42" font-size="4.51">−2</tspan><tspan dy="2.42">]</tspan></text>
<defs><clipPath id="cc1"><rect x="291.4" y="11.3" width="88.4" height="51.7"/></clipPath></defs>
<g clip-path="url(#cc1)">
<path d="M291.40,58.70L292.14,58.70L292.87,58.70L293.61,58.69L294.35,58.69L295.08,58.69L295.82,58.69L296.56,58.68L297.29,58.68L298.03,58.67L298.77,58.66L299.50,58.65L300.24,58.64L300.98,58.63L301.71,58.61L302.45,58.59L303.19,58.56L303.92,58.53L304.66,58.49L305.40,58.44L306.13,58.38L306.87,58.31L307.61,58.22L308.34,58.12L309.08,58.00L309.82,57.86L310.55,57.70L311.29,57.51L312.03,57.28L312.76,57.03L313.50,56.73L314.24,56.39L314.97,56.00L315.71,55.56L316.45,55.07L317.18,54.51L317.92,53.89L318.66,53.21L319.39,52.46L320.13,51.63L320.87,50.73L321.60,49.77L322.34,48.73L323.08,47.63L323.81,46.46L324.55,45.25L325.29,43.99L326.02,42.70L326.76,41.40L327.50,40.09L328.23,38.81L328.97,37.57L329.71,36.40L330.44,35.32L331.18,34.37L331.92,33.58L332.65,33.00L333.39,32.68L334.13,32.83L334.86,33.32L335.60,34.04L336.34,34.93L337.07,35.96L337.81,37.10L338.55,38.32L339.28,39.59L340.02,40.88L340.76,42.19L341.49,43.49L342.23,44.76L342.97,45.99L343.70,47.17L344.44,48.30L345.18,49.36L345.91,50.36L346.65,51.28L347.39,52.14L348.12,52.92L348.86,53.63L349.60,54.28L350.33,54.86L351.07,55.37L351.81,55.83L352.54,56.24L353.28,56.60L354.02,56.91L354.75,57.19L355.49,57.42L356.23,57.63L356.96,57.80L357.70,57.95L358.44,58.08L359.17,58.19L359.91,58.28L360.65,58.35L361.38,58.42L362.12,58.47L362.86,58.51L363.59,58.55L364.33,58.58L365.07,58.60L365.80,58.62L366.54,58.64L367.28,58.65L368.01,58.66L368.75,58.67L369.49,58.68L370.22,58.68L370.96,58.69L371.70,58.69L372.43,58.69L373.17,58.69L373.91,58.69L374.64,58.70L375.38,58.70L376.12,58.70L376.85,58.70L377.59,58.70L378.33,58.70L379.06,58.70L379.80,58.70" fill="none" stroke="#111" stroke-width="1.2"/>
<path d="M372.66,56.47v4.2M301.93,56.55v4.2M362.87,56.47v4.2M320.06,51.26v4.2M344.24,47.44v4.2M307.90,56.44v4.2M330.01,37.30v4.2M375.81,56.22v4.2M372.12,56.99v4.2M316.82,52.93v4.2M297.96,56.15v4.2M320.90,48.36v4.2M325.89,38.91v4.2M340.55,41.36v4.2M314.21,53.76v4.2M306.14,56.22v4.2M336.47,28.75v4.2M309.80,55.77v4.2M367.59,56.37v4.2M368.65,57.17v4.2M356.98,55.60v4.2M374.69,56.94v4.2M373.14,56.25v4.2M353.10,53.56v4.2M332.50,34.46v4.2M370.13,56.66v4.2M335.70,30.71v4.2M366.72,56.86v4.2M368.09,57.05v4.2M369.76,56.46v4.2M353.80,55.13v4.2M321.40,47.86v4.2M351.84,53.01v4.2M316.81,51.22v4.2M369.04,56.92v4.2M352.38,52.55v4.2M335.98,36.56v4.2M342.78,43.85v4.2M320.36,48.90v4.2M370.88,56.14v4.2M345.64,45.78v4.2M353.98,54.32v4.2M368.73,56.34v4.2M299.81,55.95v4.2M348.05,50.85v4.2M366.12,56.25v4.2M303.67,57.21v4.2M314.92,54.11v4.2M312.13,54.74v4.2M353.25,54.92v4.2M297.63,56.73v4.2M349.66,51.84v4.2M301.77,56.42v4.2M354.26,54.95v4.2M296.76,56.61v4.2M307.80,55.31v4.2M309.96,55.90v4.2M298.54,56.92v4.2M375.42,56.54v4.2M322.99,45.33v4.2M344.99,47.04v4.2M322.42,47.21v4.2M297.54,57.20v4.2M355.12,54.92v4.2M368.28,56.54v4.2M352.31,55.31v4.2M333.42,29.88v4.2M320.72,47.09v4.2M303.33,57.22v4.2M305.39,56.07v4.2M342.53,44.84v4.2M306.72,55.91v4.2M372.96,56.62v4.2M329.12,31.68v4.2M296.50,56.78v4.2M299.65,56.63v4.2M297.76,56.48v4.2M346.60,48.69v4.2M336.31,26.16v4.2M375.79,56.69v4.2M313.91,54.88v4.2M343.04,43.58v4.2M345.72,47.38v4.2M315.87,54.43v4.2M329.38,35.06v4.2M297.92,56.58v4.2M328.22,33.72v4.2M314.60,53.45v4.2M303.14,56.34v4.2M312.69,54.59v4.2M339.13,24.47v4.2" stroke="#1f77b4" stroke-width="0.4" fill="none" stroke-opacity="0.8"/>
<g fill="#1f77b4" fill-opacity="0.08" stroke="#1f77b4" stroke-width="0.65" stroke-opacity="0.9"><circle cx="372.66" cy="58.57" r="1.65"/><circle cx="301.93" cy="58.65" r="1.65"/><circle cx="362.87" cy="58.57" r="1.65"/><circle cx="320.06" cy="53.36" r="1.65"/><circle cx="344.24" cy="49.54" r="1.65"/><circle cx="307.90" cy="58.54" r="1.65"/><circle cx="330.01" cy="39.40" r="1.65"/><circle cx="375.81" cy="58.32" r="1.65"/><circle cx="372.12" cy="59.09" r="1.65"/><circle cx="316.82" cy="55.03" r="1.65"/><circle cx="297.96" cy="58.25" r="1.65"/><circle cx="320.90" cy="50.46" r="1.65"/><circle cx="325.89" cy="41.01" r="1.65"/><circle cx="340.55" cy="43.46" r="1.65"/><circle cx="314.21" cy="55.86" r="1.65"/><circle cx="306.14" cy="58.32" r="1.65"/><circle cx="336.47" cy="30.85" r="1.65"/><circle cx="309.80" cy="57.87" r="1.65"/><circle cx="367.59" cy="58.47" r="1.65"/><circle cx="368.65" cy="59.27" r="1.65"/><circle cx="356.98" cy="57.70" r="1.65"/><circle cx="374.69" cy="59.04" r="1.65"/><circle cx="373.14" cy="58.35" r="1.65"/><circle cx="353.10" cy="55.66" r="1.65"/><circle cx="332.50" cy="36.56" r="1.65"/><circle cx="370.13" cy="58.76" r="1.65"/><circle cx="335.70" cy="32.81" r="1.65"/><circle cx="366.72" cy="58.96" r="1.65"/><circle cx="368.09" cy="59.15" r="1.65"/><circle cx="369.76" cy="58.56" r="1.65"/><circle cx="353.80" cy="57.23" r="1.65"/><circle cx="321.40" cy="49.96" r="1.65"/><circle cx="351.84" cy="55.11" r="1.65"/><circle cx="316.81" cy="53.32" r="1.65"/><circle cx="369.04" cy="59.02" r="1.65"/><circle cx="352.38" cy="54.65" r="1.65"/><circle cx="335.98" cy="38.66" r="1.65"/><circle cx="342.78" cy="45.95" r="1.65"/><circle cx="320.36" cy="51.00" r="1.65"/><circle cx="370.88" cy="58.24" r="1.65"/><circle cx="345.64" cy="47.88" r="1.65"/><circle cx="353.98" cy="56.42" r="1.65"/><circle cx="368.73" cy="58.44" r="1.65"/><circle cx="299.81" cy="58.05" r="1.65"/><circle cx="348.05" cy="52.95" r="1.65"/><circle cx="366.12" cy="58.35" r="1.65"/><circle cx="303.67" cy="59.31" r="1.65"/><circle cx="314.92" cy="56.21" r="1.65"/><circle cx="312.13" cy="56.84" r="1.65"/><circle cx="353.25" cy="57.02" r="1.65"/><circle cx="297.63" cy="58.83" r="1.65"/><circle cx="349.66" cy="53.94" r="1.65"/><circle cx="301.77" cy="58.52" r="1.65"/><circle cx="354.26" cy="57.05" r="1.65"/><circle cx="296.76" cy="58.71" r="1.65"/><circle cx="307.80" cy="57.41" r="1.65"/><circle cx="309.96" cy="58.00" r="1.65"/><circle cx="298.54" cy="59.02" r="1.65"/><circle cx="375.42" cy="58.64" r="1.65"/><circle cx="322.99" cy="47.43" r="1.65"/><circle cx="344.99" cy="49.14" r="1.65"/><circle cx="322.42" cy="49.31" r="1.65"/><circle cx="297.54" cy="59.30" r="1.65"/><circle cx="355.12" cy="57.02" r="1.65"/><circle cx="368.28" cy="58.64" r="1.65"/><circle cx="352.31" cy="57.41" r="1.65"/><circle cx="333.42" cy="31.98" r="1.65"/><circle cx="320.72" cy="49.19" r="1.65"/><circle cx="303.33" cy="59.32" r="1.65"/><circle cx="305.39" cy="58.17" r="1.65"/><circle cx="342.53" cy="46.94" r="1.65"/><circle cx="306.72" cy="58.01" r="1.65"/><circle cx="372.96" cy="58.72" r="1.65"/><circle cx="329.12" cy="33.78" r="1.65"/><circle cx="296.50" cy="58.88" r="1.65"/><circle cx="299.65" cy="58.73" r="1.65"/><circle cx="297.76" cy="58.58" r="1.65"/><circle cx="346.60" cy="50.79" r="1.65"/><circle cx="336.31" cy="28.26" r="1.65"/><circle cx="375.79" cy="58.79" r="1.65"/><circle cx="313.91" cy="56.98" r="1.65"/><circle cx="343.04" cy="45.68" r="1.65"/><circle cx="345.72" cy="49.48" r="1.65"/><circle cx="315.87" cy="56.53" r="1.65"/><circle cx="329.38" cy="37.16" r="1.65"/><circle cx="297.92" cy="58.68" r="1.65"/><circle cx="328.22" cy="35.82" r="1.65"/><circle cx="314.60" cy="55.55" r="1.65"/><circle cx="303.14" cy="58.44" r="1.65"/><circle cx="312.69" cy="56.69" r="1.65"/><circle cx="339.13" cy="26.57" r="1.65"/></g>
</g>
<rect x="291.40" y="11.30" width="88.40" height="51.70" fill="none" stroke="#333" stroke-width="0.7"/>
<path d="M300.64,63.00v1.8" stroke="#333" stroke-width="0.6"/>
<path d="M335.63,63.00v1.8" stroke="#333" stroke-width="0.6"/>
<path d="M370.63,63.00v1.8" stroke="#333" stroke-width="0.6"/>
<path d="M291.40,58.70h-1.8" stroke="#333" stroke-width="0.6"/>
<path d="M291.40,33.30h-1.8" stroke="#333" stroke-width="0.6"/>
<text x="292.00" y="17.70" font-size="6.31" text-anchor="start" fill="#000" textLength="27.21" lengthAdjust="spacing"><tspan>1.7-3.4 m</tspan></text>
<defs><clipPath id="cc2"><rect x="384.5" y="11.3" width="88.4" height="51.7"/></clipPath></defs>
<g clip-path="url(#cc2)">
<path d="M384.50,58.70L385.24,58.70L385.97,58.70L386.71,58.70L387.45,58.70L388.18,58.70L388.92,58.70L389.66,58.70L390.39,58.70L391.13,58.70L391.87,58.70L392.60,58.70L393.34,58.70L394.08,58.70L394.81,58.70L395.55,58.70L396.29,58.70L397.02,58.70L397.76,58.69L398.50,58.69L399.23,58.69L399.97,58.68L400.71,58.67L401.44,58.66L402.18,58.64L402.92,58.62L403.65,58.59L404.39,58.55L405.13,58.49L405.86,58.42L406.60,58.32L407.34,58.20L408.07,58.04L408.81,57.85L409.55,57.60L410.28,57.30L411.02,56.93L411.76,56.49L412.49,55.96L413.23,55.34L413.97,54.61L414.70,53.78L415.44,52.83L416.18,51.77L416.91,50.59L417.65,49.30L418.39,47.90L419.12,46.42L419.86,44.87L420.60,43.26L421.33,41.64L422.07,40.02L422.81,38.44L423.54,36.93L424.28,35.53L425.02,34.28L425.75,33.20L426.49,32.33L427.23,31.68L427.96,31.28L428.70,31.14L429.44,31.26L430.17,31.64L430.91,32.26L431.65,33.11L432.38,34.17L433.12,35.41L433.86,36.79L434.59,38.29L435.33,39.86L436.07,41.48L436.80,43.11L437.54,44.72L438.28,46.28L439.01,47.77L439.75,49.17L440.49,50.47L441.22,51.66L441.96,52.74L442.70,53.69L443.43,54.54L444.17,55.27L444.91,55.90L445.64,56.44L446.38,56.89L447.12,57.27L447.85,57.57L448.59,57.82L449.33,58.03L450.06,58.19L450.80,58.31L451.54,58.41L452.27,58.48L453.01,58.54L453.75,58.58L454.48,58.62L455.22,58.64L455.96,58.66L456.69,58.67L457.43,58.68L458.17,58.69L458.90,58.69L459.64,58.69L460.38,58.70L461.11,58.70L461.85,58.70L462.59,58.70L463.32,58.70L464.06,58.70L464.80,58.70L465.53,58.70L466.27,58.70L467.01,58.70L467.74,58.70L468.48,58.70L469.22,58.70L469.95,58.70L470.69,58.70L471.43,58.70L472.16,58.70L472.90,58.70" fill="none" stroke="#111" stroke-width="1.2"/>
<path d="M407.46,56.47v4.2M437.17,42.23v4.2M438.94,45.34v4.2M456.13,56.54v4.2M409.20,55.47v4.2M426.32,22.29v4.2M456.05,57.10v4.2M400.37,56.49v4.2M439.68,46.00v4.2M448.32,56.05v4.2M442.65,50.32v4.2M436.13,38.37v4.2M412.60,52.58v4.2M426.52,29.23v4.2M446.50,54.26v4.2M462.92,57.02v4.2M420.21,41.49v4.2M464.10,56.99v4.2M459.50,56.42v4.2M405.76,56.20v4.2M466.53,57.09v4.2M412.58,53.46v4.2M429.32,30.93v4.2M435.64,37.33v4.2M435.58,36.00v4.2M463.56,56.93v4.2M457.67,56.01v4.2M401.38,56.59v4.2M458.02,55.78v4.2M434.35,36.66v4.2M446.09,54.38v4.2M434.71,32.77v4.2M411.28,53.72v4.2M468.50,56.31v4.2M395.33,56.48v4.2M400.38,56.95v4.2M412.00,54.09v4.2M391.73,57.37v4.2M438.03,41.50v4.2M415.01,50.94v4.2M459.66,56.14v4.2M469.21,56.65v4.2M413.28,52.41v4.2M390.69,56.36v4.2M404.17,56.91v4.2M400.82,56.28v4.2M391.58,56.38v4.2M465.97,56.84v4.2M460.94,56.90v4.2M430.36,27.72v4.2M440.42,49.36v4.2M438.49,45.58v4.2M464.51,57.00v4.2M446.62,54.95v4.2M407.43,56.45v4.2M430.45,23.12v4.2M432.67,30.15v4.2M435.23,37.40v4.2M389.77,57.00v4.2M393.02,56.96v4.2M439.07,47.62v4.2M416.77,48.41v4.2M445.54,54.28v4.2M393.06,56.68v4.2M443.03,51.43v4.2M425.19,32.32v4.2M436.26,40.51v4.2M413.53,52.38v4.2M418.11,47.17v4.2M418.76,45.68v4.2M450.84,55.69v4.2M447.83,55.36v4.2M413.31,52.96v4.2M407.52,55.31v4.2M403.35,57.05v4.2M396.41,56.36v4.2M414.28,52.87v4.2M423.74,30.93v4.2M457.60,56.41v4.2M440.93,48.33v4.2M459.99,56.85v4.2M397.96,56.51v4.2M431.14,28.77v4.2M456.22,55.91v4.2M403.05,56.64v4.2M440.26,46.07v4.2M453.60,56.59v4.2M411.84,54.09v4.2M452.59,56.46v4.2M421.99,36.39v4.2" stroke="#1f77b4" stroke-width="0.4" fill="none" stroke-opacity="0.8"/>
<g fill="#1f77b4" fill-opacity="0.08" stroke="#1f77b4" stroke-width="0.65" stroke-opacity="0.9"><circle cx="407.46" cy="58.57" r="1.65"/><circle cx="437.17" cy="44.33" r="1.65"/><circle cx="438.94" cy="47.44" r="1.65"/><circle cx="456.13" cy="58.64" r="1.65"/><circle cx="409.20" cy="57.57" r="1.65"/><circle cx="426.32" cy="24.39" r="1.65"/><circle cx="456.05" cy="59.20" r="1.65"/><circle cx="400.37" cy="58.59" r="1.65"/><circle cx="439.68" cy="48.10" r="1.65"/><circle cx="448.32" cy="58.15" r="1.65"/><circle cx="442.65" cy="52.42" r="1.65"/><circle cx="436.13" cy="40.47" r="1.65"/><circle cx="412.60" cy="54.68" r="1.65"/><circle cx="426.52" cy="31.33" r="1.65"/><circle cx="446.50" cy="56.36" r="1.65"/><circle cx="462.92" cy="59.12" r="1.65"/><circle cx="420.21" cy="43.59" r="1.65"/><circle cx="464.10" cy="59.09" r="1.65"/><circle cx="459.50" cy="58.52" r="1.65"/><circle cx="405.76" cy="58.30" r="1.65"/><circle cx="466.53" cy="59.19" r="1.65"/><circle cx="412.58" cy="55.56" r="1.65"/><circle cx="429.32" cy="33.03" r="1.65"/><circle cx="435.64" cy="39.43" r="1.65"/><circle cx="435.58" cy="38.10" r="1.65"/><circle cx="463.56" cy="59.03" r="1.65"/><circle cx="457.67" cy="58.11" r="1.65"/><circle cx="401.38" cy="58.69" r="1.65"/><circle cx="458.02" cy="57.88" r="1.65"/><circle cx="434.35" cy="38.76" r="1.65"/><circle cx="446.09" cy="56.48" r="1.65"/><circle cx="434.71" cy="34.87" r="1.65"/><circle cx="411.28" cy="55.82" r="1.65"/><circle cx="468.50" cy="58.41" r="1.65"/><circle cx="395.33" cy="58.58" r="1.65"/><circle cx="400.38" cy="59.05" r="1.65"/><circle cx="412.00" cy="56.19" r="1.65"/><circle cx="391.73" cy="59.47" r="1.65"/><circle cx="438.03" cy="43.60" r="1.65"/><circle cx="415.01" cy="53.04" r="1.65"/><circle cx="459.66" cy="58.24" r="1.65"/><circle cx="469.21" cy="58.75" r="1.65"/><circle cx="413.28" cy="54.51" r="1.65"/><circle cx="390.69" cy="58.46" r="1.65"/><circle cx="404.17" cy="59.01" r="1.65"/><circle cx="400.82" cy="58.38" r="1.65"/><circle cx="391.58" cy="58.48" r="1.65"/><circle cx="465.97" cy="58.94" r="1.65"/><circle cx="460.94" cy="59.00" r="1.65"/><circle cx="430.36" cy="29.82" r="1.65"/><circle cx="440.42" cy="51.46" r="1.65"/><circle cx="438.49" cy="47.68" r="1.65"/><circle cx="464.51" cy="59.10" r="1.65"/><circle cx="446.62" cy="57.05" r="1.65"/><circle cx="407.43" cy="58.55" r="1.65"/><circle cx="430.45" cy="25.22" r="1.65"/><circle cx="432.67" cy="32.25" r="1.65"/><circle cx="435.23" cy="39.50" r="1.65"/><circle cx="389.77" cy="59.10" r="1.65"/><circle cx="393.02" cy="59.06" r="1.65"/><circle cx="439.07" cy="49.72" r="1.65"/><circle cx="416.77" cy="50.51" r="1.65"/><circle cx="445.54" cy="56.38" r="1.65"/><circle cx="393.06" cy="58.78" r="1.65"/><circle cx="443.03" cy="53.53" r="1.65"/><circle cx="425.19" cy="34.42" r="1.65"/><circle cx="436.26" cy="42.61" r="1.65"/><circle cx="413.53" cy="54.48" r="1.65"/><circle cx="418.11" cy="49.27" r="1.65"/><circle cx="418.76" cy="47.78" r="1.65"/><circle cx="450.84" cy="57.79" r="1.65"/><circle cx="447.83" cy="57.46" r="1.65"/><circle cx="413.31" cy="55.06" r="1.65"/><circle cx="407.52" cy="57.41" r="1.65"/><circle cx="403.35" cy="59.15" r="1.65"/><circle cx="396.41" cy="58.46" r="1.65"/><circle cx="414.28" cy="54.97" r="1.65"/><circle cx="423.74" cy="33.03" r="1.65"/><circle cx="457.60" cy="58.51" r="1.65"/><circle cx="440.93" cy="50.43" r="1.65"/><circle cx="459.99" cy="58.95" r="1.65"/><circle cx="397.96" cy="58.61" r="1.65"/><circle cx="431.14" cy="30.87" r="1.65"/><circle cx="456.22" cy="58.01" r="1.65"/><circle cx="403.05" cy="58.74" r="1.65"/><circle cx="440.26" cy="48.17" r="1.65"/><circle cx="453.60" cy="58.69" r="1.65"/><circle cx="411.84" cy="56.19" r="1.65"/><circle cx="452.59" cy="58.56" r="1.65"/><circle cx="421.99" cy="38.49" r="1.65"/></g>
</g>
<rect x="384.50" y="11.30" width="88.40" height="51.70" fill="none" stroke="#333" stroke-width="0.7"/>
<path d="M393.74,63.00v1.8" stroke="#333" stroke-width="0.6"/>
<path d="M428.73,63.00v1.8" stroke="#333" stroke-width="0.6"/>
<path d="M463.73,63.00v1.8" stroke="#333" stroke-width="0.6"/>
<path d="M384.50,58.70h-1.8" stroke="#333" stroke-width="0.6"/>
<path d="M384.50,33.30h-1.8" stroke="#333" stroke-width="0.6"/>
<text x="385.10" y="17.70" font-size="6.31" text-anchor="start" fill="#000" textLength="27.21" lengthAdjust="spacing"><tspan>3.4-5.1 m</tspan></text>
<defs><clipPath id="cc3"><rect x="198.2" y="68.4" width="88.4" height="50.89999999999999"/></clipPath></defs>
<g clip-path="url(#cc3)">
<path d="M198.20,115.20L198.94,115.20L199.67,115.20L200.41,115.20L201.15,115.20L201.88,115.20L202.62,115.20L203.36,115.20L204.09,115.20L204.83,115.20L205.57,115.19L206.30,115.19L207.04,115.19L207.78,115.18L208.51,115.18L209.25,115.17L209.99,115.16L210.72,115.15L211.46,115.14L212.20,115.12L212.93,115.09L213.67,115.06L214.41,115.03L215.14,114.98L215.88,114.92L216.62,114.86L217.35,114.77L218.09,114.67L218.83,114.55L219.56,114.40L220.30,114.22L221.04,114.02L221.77,113.77L222.51,113.49L223.25,113.16L223.98,112.78L224.72,112.35L225.46,111.86L226.19,111.31L226.93,110.69L227.67,110.00L228.40,109.24L229.14,108.41L229.88,107.51L230.61,106.54L231.35,105.50L232.09,104.41L232.82,103.26L233.56,102.06L234.30,100.83L235.03,99.58L235.77,98.32L236.51,97.08L237.24,95.86L237.98,94.69L238.72,93.58L239.45,92.56L240.19,91.64L240.93,90.85L241.66,90.20L242.40,89.71L243.14,89.41L243.87,89.30L244.61,89.43L245.35,89.76L246.08,90.26L246.82,90.93L247.56,91.73L248.29,92.66L249.03,93.69L249.77,94.80L250.50,95.98L251.24,97.21L251.98,98.45L252.71,99.71L253.45,100.96L254.19,102.19L254.92,103.38L255.66,104.52L256.40,105.62L257.13,106.65L257.87,107.61L258.61,108.50L259.34,109.33L260.08,110.08L260.82,110.76L261.55,111.37L262.29,111.91L263.03,112.40L263.76,112.82L264.50,113.20L265.24,113.52L265.97,113.80L266.71,114.04L267.45,114.24L268.18,114.41L268.92,114.56L269.66,114.68L270.39,114.78L271.13,114.86L271.87,114.93L272.60,114.99L273.34,115.03L274.08,115.07L274.81,115.10L275.55,115.12L276.29,115.14L277.02,115.15L277.76,115.16L278.50,115.17L279.23,115.18L279.97,115.18L280.71,115.19L281.44,115.19L282.18,115.19L282.92,115.20L283.65,115.20L284.39,115.20L285.13,115.20L285.86,115.20L286.60,115.20" fill="none" stroke="#111" stroke-width="1.2"/>
<path d="M221.00,111.52v4.2M214.42,112.68v4.2M207.24,113.80v4.2M266.83,111.33v4.2M263.96,110.70v4.2M224.30,109.72v4.2M215.86,112.60v4.2M277.14,112.89v4.2M269.14,112.22v4.2M217.54,113.37v4.2M227.00,109.47v4.2M271.23,113.26v4.2M273.29,112.46v4.2M256.38,102.56v4.2M242.92,85.96v4.2M209.09,112.67v4.2M277.72,112.74v4.2M226.22,109.91v4.2M275.63,113.76v4.2M270.69,113.10v4.2M243.11,90.63v4.2M236.84,92.91v4.2M214.94,113.15v4.2M205.35,112.42v4.2M205.60,113.31v4.2M245.25,89.24v4.2M240.10,94.64v4.2M217.72,111.38v4.2M235.35,96.13v4.2M224.27,109.66v4.2M230.73,104.30v4.2M247.19,91.57v4.2M275.26,112.90v4.2M220.42,111.99v4.2M263.96,111.17v4.2M228.72,107.28v4.2M216.25,112.91v4.2M258.45,106.14v4.2M274.58,112.36v4.2M279.77,113.26v4.2M203.32,113.34v4.2M264.78,109.79v4.2M235.16,94.77v4.2M268.25,112.55v4.2M225.66,109.33v4.2M212.92,112.59v4.2M232.82,99.82v4.2M202.60,113.18v4.2M205.48,112.76v4.2M231.29,101.48v4.2M225.41,108.15v4.2M236.26,92.01v4.2M218.72,112.32v4.2M215.53,112.80v4.2M256.79,103.86v4.2M241.68,87.44v4.2M222.06,111.29v4.2M244.81,87.42v4.2M264.66,112.61v4.2M240.63,84.74v4.2M221.48,111.89v4.2M236.04,95.47v4.2M222.02,110.81v4.2M242.32,91.08v4.2M204.41,113.10v4.2M218.73,112.13v4.2M220.63,111.85v4.2M206.00,113.25v4.2M277.19,114.16v4.2M234.56,100.50v4.2M274.99,113.40v4.2M262.30,110.85v4.2M241.97,86.26v4.2M272.78,112.74v4.2M274.89,112.68v4.2M255.17,102.29v4.2M266.75,112.52v4.2M244.71,91.46v4.2M255.00,101.86v4.2M276.76,113.33v4.2M279.48,112.15v4.2M279.93,112.62v4.2M256.10,100.31v4.2M212.20,112.78v4.2M280.48,113.16v4.2M215.42,112.99v4.2M253.41,101.44v4.2M277.14,113.33v4.2M219.58,111.24v4.2M202.90,113.08v4.2M243.83,78.78v4.2" stroke="#1f77b4" stroke-width="0.4" fill="none" stroke-opacity="0.8"/>
<g fill="#1f77b4" fill-opacity="0.08" stroke="#1f77b4" stroke-width="0.65" stroke-opacity="0.9"><circle cx="221.00" cy="113.62" r="1.65"/><circle cx="214.42" cy="114.78" r="1.65"/><circle cx="207.24" cy="115.90" r="1.65"/><circle cx="266.83" cy="113.43" r="1.65"/><circle cx="263.96" cy="112.80" r="1.65"/><circle cx="224.30" cy="111.82" r="1.65"/><circle cx="215.86" cy="114.70" r="1.65"/><circle cx="277.14" cy="114.99" r="1.65"/><circle cx="269.14" cy="114.32" r="1.65"/><circle cx="217.54" cy="115.47" r="1.65"/><circle cx="227.00" cy="111.57" r="1.65"/><circle cx="271.23" cy="115.36" r="1.65"/><circle cx="273.29" cy="114.56" r="1.65"/><circle cx="256.38" cy="104.66" r="1.65"/><circle cx="242.92" cy="88.06" r="1.65"/><circle cx="209.09" cy="114.77" r="1.65"/><circle cx="277.72" cy="114.84" r="1.65"/><circle cx="226.22" cy="112.01" r="1.65"/><circle cx="275.63" cy="115.86" r="1.65"/><circle cx="270.69" cy="115.20" r="1.65"/><circle cx="243.11" cy="92.73" r="1.65"/><circle cx="236.84" cy="95.01" r="1.65"/><circle cx="214.94" cy="115.25" r="1.65"/><circle cx="205.35" cy="114.52" r="1.65"/><circle cx="205.60" cy="115.41" r="1.65"/><circle cx="245.25" cy="91.34" r="1.65"/><circle cx="240.10" cy="96.74" r="1.65"/><circle cx="217.72" cy="113.48" r="1.65"/><circle cx="235.35" cy="98.23" r="1.65"/><circle cx="224.27" cy="111.76" r="1.65"/><circle cx="230.73" cy="106.40" r="1.65"/><circle cx="247.19" cy="93.67" r="1.65"/><circle cx="275.26" cy="115.00" r="1.65"/><circle cx="220.42" cy="114.09" r="1.65"/><circle cx="263.96" cy="113.27" r="1.65"/><circle cx="228.72" cy="109.38" r="1.65"/><circle cx="216.25" cy="115.01" r="1.65"/><circle cx="258.45" cy="108.24" r="1.65"/><circle cx="274.58" cy="114.46" r="1.65"/><circle cx="279.77" cy="115.36" r="1.65"/><circle cx="203.32" cy="115.44" r="1.65"/><circle cx="264.78" cy="111.89" r="1.65"/><circle cx="235.16" cy="96.87" r="1.65"/><circle cx="268.25" cy="114.65" r="1.65"/><circle cx="225.66" cy="111.43" r="1.65"/><circle cx="212.92" cy="114.69" r="1.65"/><circle cx="232.82" cy="101.92" r="1.65"/><circle cx="202.60" cy="115.28" r="1.65"/><circle cx="205.48" cy="114.86" r="1.65"/><circle cx="231.29" cy="103.58" r="1.65"/><circle cx="225.41" cy="110.25" r="1.65"/><circle cx="236.26" cy="94.11" r="1.65"/><circle cx="218.72" cy="114.42" r="1.65"/><circle cx="215.53" cy="114.90" r="1.65"/><circle cx="256.79" cy="105.96" r="1.65"/><circle cx="241.68" cy="89.54" r="1.65"/><circle cx="222.06" cy="113.39" r="1.65"/><circle cx="244.81" cy="89.52" r="1.65"/><circle cx="264.66" cy="114.71" r="1.65"/><circle cx="240.63" cy="86.84" r="1.65"/><circle cx="221.48" cy="113.99" r="1.65"/><circle cx="236.04" cy="97.57" r="1.65"/><circle cx="222.02" cy="112.91" r="1.65"/><circle cx="242.32" cy="93.18" r="1.65"/><circle cx="204.41" cy="115.20" r="1.65"/><circle cx="218.73" cy="114.23" r="1.65"/><circle cx="220.63" cy="113.95" r="1.65"/><circle cx="206.00" cy="115.35" r="1.65"/><circle cx="277.19" cy="116.26" r="1.65"/><circle cx="234.56" cy="102.60" r="1.65"/><circle cx="274.99" cy="115.50" r="1.65"/><circle cx="262.30" cy="112.95" r="1.65"/><circle cx="241.97" cy="88.36" r="1.65"/><circle cx="272.78" cy="114.84" r="1.65"/><circle cx="274.89" cy="114.78" r="1.65"/><circle cx="255.17" cy="104.39" r="1.65"/><circle cx="266.75" cy="114.62" r="1.65"/><circle cx="244.71" cy="93.56" r="1.65"/><circle cx="255.00" cy="103.96" r="1.65"/><circle cx="276.76" cy="115.43" r="1.65"/><circle cx="279.48" cy="114.25" r="1.65"/><circle cx="279.93" cy="114.72" r="1.65"/><circle cx="256.10" cy="102.41" r="1.65"/><circle cx="212.20" cy="114.88" r="1.65"/><circle cx="280.48" cy="115.26" r="1.65"/><circle cx="215.42" cy="115.09" r="1.65"/><circle cx="253.41" cy="103.54" r="1.65"/><circle cx="277.14" cy="115.43" r="1.65"/><circle cx="219.58" cy="113.34" r="1.65"/><circle cx="202.90" cy="115.18" r="1.65"/><circle cx="243.83" cy="80.88" r="1.65"/></g>
</g>
<rect x="198.20" y="68.40" width="88.40" height="50.90" fill="none" stroke="#333" stroke-width="0.7"/>
<path d="M207.44,119.30v1.8" stroke="#333" stroke-width="0.6"/>
<path d="M242.43,119.30v1.8" stroke="#333" stroke-width="0.6"/>
<path d="M277.43,119.30v1.8" stroke="#333" stroke-width="0.6"/>
<path d="M198.20,115.20h-1.8" stroke="#333" stroke-width="0.6"/>
<path d="M198.20,89.30h-1.8" stroke="#333" stroke-width="0.6"/>
<text x="198.80" y="74.80" font-size="6.31" text-anchor="start" fill="#000" textLength="27.21" lengthAdjust="spacing"><tspan>5.1-6.8 m</tspan></text>
<text x="207.74" y="128.00" font-size="6.38" text-anchor="middle" fill="#000" textLength="8.40" lengthAdjust="spacing"><tspan>−5</tspan></text>
<text x="242.43" y="128.00" font-size="6.38" text-anchor="middle" fill="#000" textLength="3.63" lengthAdjust="spacing"><tspan>0</tspan></text>
<text x="277.43" y="128.00" font-size="6.38" text-anchor="middle" fill="#000" textLength="3.63" lengthAdjust="spacing"><tspan>5</tspan></text>
<text x="242.40" y="135.60" font-size="6.31" text-anchor="middle" fill="#000" textLength="77.80" lengthAdjust="spacing"><tspan>Across-plume direction [m]</tspan></text>
<text x="194.70" y="117.60" font-size="6.38" text-anchor="end" fill="#000" textLength="3.63" lengthAdjust="spacing"><tspan>0</tspan></text>
<text x="194.70" y="91.70" font-size="6.38" text-anchor="end" fill="#000" textLength="7.25" lengthAdjust="spacing"><tspan>20</tspan></text>
<text x="182.40" y="93.85" font-size="6.44" text-anchor="middle" fill="#000" textLength="34.23" lengthAdjust="spacing" transform="rotate(-90 182.40 93.85)"><tspan>CH</tspan><tspan dy="1.26" font-size="4.51">4</tspan><tspan dy="-1.26"> [g m</tspan><tspan dy="-2.42" font-size="4.51">−2</tspan><tspan dy="2.42">]</tspan></text>
<defs><clipPath id="cc4"><rect x="291.4" y="68.4" width="88.4" height="50.89999999999999"/></clipPath></defs>
<g clip-path="url(#cc4)">
<path d="M291.40,115.20L292.14,115.20L292.87,115.19L293.61,115.19L294.35,115.19L295.08,115.19L295.82,115.18L296.56,115.18L297.29,115.17L298.03,115.17L298.77,115.16L299.50,115.15L300.24,115.14L300.98,115.12L301.71,115.11L302.45,115.09L303.19,115.06L303.92,115.03L304.66,114.99L305.40,114.95L306.13,114.90L306.87,114.84L307.61,114.77L308.34,114.69L309.08,114.60L309.82,114.50L310.55,114.37L311.29,114.23L312.03,114.07L312.76,113.89L313.50,113.69L314.24,113.46L314.97,113.20L315.71,112.91L316.45,112.60L317.18,112.25L317.92,111.86L318.66,111.45L319.39,110.99L320.13,110.50L320.87,109.98L321.60,109.42L322.34,108.82L323.08,108.19L323.81,107.53L324.55,106.85L325.29,106.14L326.02,105.41L326.76,104.66L327.50,103.90L328.23,103.14L328.97,102.39L329.71,101.64L330.44,100.91L331.18,100.21L331.92,99.55L332.65,98.92L333.39,98.35L334.13,97.84L334.86,97.39L335.60,97.02L336.34,96.73L337.07,96.53L337.81,96.43L338.55,96.45L339.28,96.57L340.02,96.80L340.76,97.11L341.49,97.50L342.23,97.96L342.97,98.49L343.70,99.08L344.44,99.71L345.18,100.39L345.91,101.10L346.65,101.83L347.39,102.58L348.12,103.34L348.86,104.10L349.60,104.85L350.33,105.59L351.07,106.32L351.81,107.02L352.54,107.71L353.28,108.36L354.02,108.98L354.75,109.56L355.49,110.12L356.23,110.63L356.96,111.11L357.70,111.56L358.44,111.96L359.17,112.34L359.91,112.68L360.65,112.99L361.38,113.27L362.12,113.52L362.86,113.74L363.59,113.94L364.33,114.11L365.07,114.27L365.80,114.41L366.54,114.52L367.28,114.63L368.01,114.72L368.75,114.79L369.49,114.86L370.22,114.92L370.96,114.96L371.70,115.00L372.43,115.04L373.17,115.07L373.91,115.09L374.64,115.11L375.38,115.13L376.12,115.14L376.85,115.15L377.59,115.16L378.33,115.17L379.06,115.18L379.80,115.18" fill="none" stroke="#111" stroke-width="1.2"/>
<path d="M345.61,98.87v4.2M371.56,113.62v4.2M355.11,107.54v4.2M332.84,96.89v4.2M371.63,113.42v4.2M304.23,113.62v4.2M333.12,96.40v4.2M341.64,92.88v4.2M296.10,113.02v4.2M369.44,112.42v4.2M357.21,108.43v4.2M306.31,112.16v4.2M345.17,98.21v4.2M365.79,112.28v4.2M312.05,111.66v4.2M365.87,111.03v4.2M318.53,108.53v4.2M350.07,103.63v4.2M311.67,111.36v4.2M373.52,113.20v4.2M367.60,112.69v4.2M308.51,112.18v4.2M306.87,112.41v4.2M344.01,96.59v4.2M295.31,113.24v4.2M320.21,109.04v4.2M361.50,111.70v4.2M334.11,95.53v4.2M352.25,102.45v4.2M296.90,112.70v4.2M355.92,108.23v4.2M359.00,110.26v4.2M324.77,104.68v4.2M298.83,113.08v4.2M309.73,112.12v4.2M356.40,108.80v4.2M370.52,112.48v4.2M323.85,105.77v4.2M337.64,94.18v4.2M355.80,108.64v4.2M359.77,110.41v4.2M371.83,113.00v4.2M302.44,113.28v4.2M369.58,112.28v4.2M322.64,105.33v4.2M320.41,108.70v4.2M320.76,107.80v4.2M307.13,112.57v4.2M350.99,103.40v4.2M298.98,113.06v4.2M375.15,113.42v4.2M314.31,111.45v4.2M343.26,95.62v4.2M329.28,101.58v4.2M299.56,112.96v4.2M335.11,95.43v4.2M363.11,111.14v4.2M372.15,112.45v4.2M346.22,99.11v4.2M330.32,99.74v4.2M307.16,112.52v4.2M331.83,98.83v4.2M376.17,112.40v4.2M331.86,101.62v4.2M334.67,95.71v4.2M318.67,110.19v4.2M327.82,100.58v4.2M375.29,112.72v4.2M372.97,113.29v4.2M322.52,107.43v4.2M302.28,113.09v4.2M365.46,111.43v4.2M324.38,104.46v4.2M351.43,106.60v4.2M348.95,102.01v4.2M352.24,106.40v4.2M317.84,111.01v4.2M351.13,104.09v4.2M318.90,108.16v4.2M342.18,96.83v4.2M295.98,113.37v4.2M349.57,103.03v4.2M332.63,95.70v4.2M359.80,111.37v4.2M323.28,107.00v4.2M362.28,112.17v4.2M323.46,104.54v4.2M350.93,106.19v4.2M374.29,112.54v4.2M338.02,95.04v4.2M336.33,86.81v4.2M338.43,85.26v4.2" stroke="#1f77b4" stroke-width="0.4" fill="none" stroke-opacity="0.8"/>
<g fill="#1f77b4" fill-opacity="0.08" stroke="#1f77b4" stroke-width="0.65" stroke-opacity="0.9"><circle cx="345.61" cy="100.97" r="1.65"/><circle cx="371.56" cy="115.72" r="1.65"/><circle cx="355.11" cy="109.64" r="1.65"/><circle cx="332.84" cy="98.99" r="1.65"/><circle cx="371.63" cy="115.52" r="1.65"/><circle cx="304.23" cy="115.72" r="1.65"/><circle cx="333.12" cy="98.50" r="1.65"/><circle cx="341.64" cy="94.98" r="1.65"/><circle cx="296.10" cy="115.12" r="1.65"/><circle cx="369.44" cy="114.52" r="1.65"/><circle cx="357.21" cy="110.53" r="1.65"/><circle cx="306.31" cy="114.26" r="1.65"/><circle cx="345.17" cy="100.31" r="1.65"/><circle cx="365.79" cy="114.38" r="1.65"/><circle cx="312.05" cy="113.76" r="1.65"/><circle cx="365.87" cy="113.13" r="1.65"/><circle cx="318.53" cy="110.63" r="1.65"/><circle cx="350.07" cy="105.73" r="1.65"/><circle cx="311.67" cy="113.46" r="1.65"/><circle cx="373.52" cy="115.30" r="1.65"/><circle cx="367.60" cy="114.79" r="1.65"/><circle cx="308.51" cy="114.28" r="1.65"/><circle cx="306.87" cy="114.51" r="1.65"/><circle cx="344.01" cy="98.69" r="1.65"/><circle cx="295.31" cy="115.34" r="1.65"/><circle cx="320.21" cy="111.14" r="1.65"/><circle cx="361.50" cy="113.80" r="1.65"/><circle cx="334.11" cy="97.63" r="1.65"/><circle cx="352.25" cy="104.55" r="1.65"/><circle cx="296.90" cy="114.80" r="1.65"/><circle cx="355.92" cy="110.33" r="1.65"/><circle cx="359.00" cy="112.36" r="1.65"/><circle cx="324.77" cy="106.78" r="1.65"/><circle cx="298.83" cy="115.18" r="1.65"/><circle cx="309.73" cy="114.22" r="1.65"/><circle cx="356.40" cy="110.90" r="1.65"/><circle cx="370.52" cy="114.58" r="1.65"/><circle cx="323.85" cy="107.87" r="1.65"/><circle cx="337.64" cy="96.28" r="1.65"/><circle cx="355.80" cy="110.74" r="1.65"/><circle cx="359.77" cy="112.51" r="1.65"/><circle cx="371.83" cy="115.10" r="1.65"/><circle cx="302.44" cy="115.38" r="1.65"/><circle cx="369.58" cy="114.38" r="1.65"/><circle cx="322.64" cy="107.43" r="1.65"/><circle cx="320.41" cy="110.80" r="1.65"/><circle cx="320.76" cy="109.90" r="1.65"/><circle cx="307.13" cy="114.67" r="1.65"/><circle cx="350.99" cy="105.50" r="1.65"/><circle cx="298.98" cy="115.16" r="1.65"/><circle cx="375.15" cy="115.52" r="1.65"/><circle cx="314.31" cy="113.55" r="1.65"/><circle cx="343.26" cy="97.72" r="1.65"/><circle cx="329.28" cy="103.68" r="1.65"/><circle cx="299.56" cy="115.06" r="1.65"/><circle cx="335.11" cy="97.53" r="1.65"/><circle cx="363.11" cy="113.24" r="1.65"/><circle cx="372.15" cy="114.55" r="1.65"/><circle cx="346.22" cy="101.21" r="1.65"/><circle cx="330.32" cy="101.84" r="1.65"/><circle cx="307.16" cy="114.62" r="1.65"/><circle cx="331.83" cy="100.93" r="1.65"/><circle cx="376.17" cy="114.50" r="1.65"/><circle cx="331.86" cy="103.72" r="1.65"/><circle cx="334.67" cy="97.81" r="1.65"/><circle cx="318.67" cy="112.29" r="1.65"/><circle cx="327.82" cy="102.68" r="1.65"/><circle cx="375.29" cy="114.82" r="1.65"/><circle cx="372.97" cy="115.39" r="1.65"/><circle cx="322.52" cy="109.53" r="1.65"/><circle cx="302.28" cy="115.19" r="1.65"/><circle cx="365.46" cy="113.53" r="1.65"/><circle cx="324.38" cy="106.56" r="1.65"/><circle cx="351.43" cy="108.70" r="1.65"/><circle cx="348.95" cy="104.11" r="1.65"/><circle cx="352.24" cy="108.50" r="1.65"/><circle cx="317.84" cy="113.11" r="1.65"/><circle cx="351.13" cy="106.19" r="1.65"/><circle cx="318.90" cy="110.26" r="1.65"/><circle cx="342.18" cy="98.93" r="1.65"/><circle cx="295.98" cy="115.47" r="1.65"/><circle cx="349.57" cy="105.13" r="1.65"/><circle cx="332.63" cy="97.80" r="1.65"/><circle cx="359.80" cy="113.47" r="1.65"/><circle cx="323.28" cy="109.10" r="1.65"/><circle cx="362.28" cy="114.27" r="1.65"/><circle cx="323.46" cy="106.64" r="1.65"/><circle cx="350.93" cy="108.29" r="1.65"/><circle cx="374.29" cy="114.64" r="1.65"/><circle cx="338.02" cy="97.14" r="1.65"/><circle cx="336.33" cy="88.91" r="1.65"/><circle cx="338.43" cy="87.36" r="1.65"/></g>
</g>
<rect x="291.40" y="68.40" width="88.40" height="50.90" fill="none" stroke="#333" stroke-width="0.7"/>
<path d="M300.64,119.30v1.8" stroke="#333" stroke-width="0.6"/>
<path d="M335.63,119.30v1.8" stroke="#333" stroke-width="0.6"/>
<path d="M370.63,119.30v1.8" stroke="#333" stroke-width="0.6"/>
<path d="M291.40,115.20h-1.8" stroke="#333" stroke-width="0.6"/>
<path d="M291.40,89.30h-1.8" stroke="#333" stroke-width="0.6"/>
<text x="292.00" y="74.80" font-size="6.31" text-anchor="start" fill="#000" textLength="27.21" lengthAdjust="spacing"><tspan>6.8-8.5 m</tspan></text>
<text x="300.94" y="128.00" font-size="6.38" text-anchor="middle" fill="#000" textLength="8.40" lengthAdjust="spacing"><tspan>−5</tspan></text>
<text x="335.63" y="128.00" font-size="6.38" text-anchor="middle" fill="#000" textLength="3.63" lengthAdjust="spacing"><tspan>0</tspan></text>
<text x="370.63" y="128.00" font-size="6.38" text-anchor="middle" fill="#000" textLength="3.63" lengthAdjust="spacing"><tspan>5</tspan></text>
<text x="335.60" y="135.60" font-size="6.31" text-anchor="middle" fill="#000" textLength="77.80" lengthAdjust="spacing"><tspan>Across-plume direction [m]</tspan></text>
<defs><clipPath id="cc5"><rect x="384.5" y="68.4" width="88.4" height="50.89999999999999"/></clipPath></defs>
<g clip-path="url(#cc5)">
<path d="M384.50,115.20L385.24,115.20L385.97,115.20L386.71,115.19L387.45,115.19L388.18,115.19L388.92,115.19L389.66,115.18L390.39,115.18L391.13,115.18L391.87,115.17L392.60,115.16L393.34,115.15L394.08,115.14L394.81,115.12L395.55,115.11L396.29,115.08L397.02,115.06L397.76,115.02L398.50,114.98L399.23,114.94L399.97,114.88L400.71,114.81L401.44,114.74L402.18,114.64L402.92,114.54L403.65,114.41L404.39,114.26L405.13,114.10L405.86,113.90L406.60,113.68L407.34,113.43L408.07,113.15L408.81,112.83L409.55,112.48L410.28,112.08L411.02,111.64L411.76,111.16L412.49,110.63L413.23,110.05L413.97,109.43L414.70,108.76L415.44,108.05L416.18,107.29L416.91,106.49L417.65,105.66L418.39,104.80L419.12,103.91L419.86,103.01L420.60,102.10L421.33,101.19L422.07,100.30L422.81,99.43L423.54,98.60L424.28,97.82L425.02,97.11L425.75,96.48L426.49,95.95L427.23,95.54L427.96,95.25L428.70,95.13L429.44,95.23L430.17,95.50L430.91,95.91L431.65,96.43L432.38,97.05L433.12,97.75L433.86,98.52L434.59,99.35L435.33,100.21L436.07,101.10L436.80,102.01L437.54,102.92L438.28,103.83L439.01,104.71L439.75,105.58L440.49,106.42L441.22,107.22L441.96,107.98L442.70,108.70L443.43,109.37L444.17,110.00L444.91,110.58L445.64,111.11L446.38,111.60L447.12,112.04L447.85,112.44L448.59,112.80L449.33,113.12L450.06,113.41L450.80,113.66L451.54,113.88L452.27,114.08L453.01,114.25L453.75,114.40L454.48,114.52L455.22,114.63L455.96,114.73L456.69,114.81L457.43,114.87L458.17,114.93L458.90,114.98L459.64,115.02L460.38,115.05L461.11,115.08L461.85,115.10L462.59,115.12L463.32,115.14L464.06,115.15L464.80,115.16L465.53,115.17L466.27,115.17L467.01,115.18L467.74,115.18L468.48,115.19L469.22,115.19L469.95,115.19L470.69,115.19L471.43,115.20L472.16,115.20L472.90,115.20" fill="none" stroke="#111" stroke-width="1.2"/>
<path d="M452.55,111.81v4.2M409.38,111.08v4.2M388.18,113.32v4.2M449.82,111.74v4.2M418.44,102.51v4.2M453.25,112.56v4.2M447.39,110.77v4.2M443.52,106.80v4.2M403.81,113.06v4.2M409.70,110.67v4.2M453.37,112.57v4.2M415.39,107.70v4.2M395.70,112.78v4.2M424.29,98.77v4.2M395.75,112.82v4.2M411.78,108.08v4.2M465.38,113.29v4.2M441.35,105.61v4.2M417.40,101.59v4.2M429.92,95.07v4.2M440.47,104.94v4.2M467.41,113.75v4.2M390.45,113.42v4.2M412.85,107.45v4.2M435.97,96.24v4.2M430.79,91.60v4.2M397.62,113.11v4.2M404.07,112.57v4.2M427.42,92.48v4.2M458.41,112.63v4.2M444.83,107.10v4.2M389.52,113.03v4.2M415.17,105.14v4.2M412.99,108.76v4.2M418.78,102.73v4.2M469.32,112.96v4.2M392.51,113.64v4.2M420.43,99.10v4.2M467.79,113.05v4.2M460.58,111.85v4.2M442.56,105.69v4.2M455.63,112.89v4.2M452.78,112.62v4.2M445.43,108.95v4.2M421.35,96.92v4.2M409.72,109.76v4.2M427.73,92.97v4.2M389.92,113.32v4.2M398.17,113.23v4.2M408.95,110.96v4.2M424.80,93.96v4.2M421.47,99.43v4.2M459.53,113.16v4.2M426.68,94.72v4.2M426.99,92.36v4.2M412.96,107.58v4.2M453.48,112.54v4.2M466.96,112.57v4.2M463.09,113.41v4.2M414.13,106.36v4.2M420.48,102.67v4.2M464.18,113.00v4.2M411.75,108.29v4.2M392.78,113.04v4.2M390.58,113.05v4.2M446.48,109.88v4.2M417.53,101.63v4.2M393.20,113.34v4.2M403.78,111.70v4.2M422.41,98.51v4.2M451.65,111.60v4.2M426.21,96.09v4.2M396.27,113.13v4.2M438.93,101.99v4.2M437.39,99.43v4.2M396.04,112.55v4.2M396.70,113.24v4.2M461.18,113.33v4.2M439.22,103.05v4.2M455.74,112.81v4.2M394.92,113.66v4.2M461.84,113.59v4.2M460.67,113.55v4.2M452.39,111.79v4.2M399.27,111.99v4.2M423.94,97.41v4.2M451.35,112.11v4.2M445.99,109.06v4.2M393.31,112.71v4.2M411.37,111.14v4.2" stroke="#1f77b4" stroke-width="0.4" fill="none" stroke-opacity="0.8"/>
<g fill="#1f77b4" fill-opacity="0.08" stroke="#1f77b4" stroke-width="0.65" stroke-opacity="0.9"><circle cx="452.55" cy="113.91" r="1.65"/><circle cx="409.38" cy="113.18" r="1.65"/><circle cx="388.18" cy="115.42" r="1.65"/><circle cx="449.82" cy="113.84" r="1.65"/><circle cx="418.44" cy="104.61" r="1.65"/><circle cx="453.25" cy="114.66" r="1.65"/><circle cx="447.39" cy="112.87" r="1.65"/><circle cx="443.52" cy="108.90" r="1.65"/><circle cx="403.81" cy="115.16" r="1.65"/><circle cx="409.70" cy="112.77" r="1.65"/><circle cx="453.37" cy="114.67" r="1.65"/><circle cx="415.39" cy="109.80" r="1.65"/><circle cx="395.70" cy="114.88" r="1.65"/><circle cx="424.29" cy="100.87" r="1.65"/><circle cx="395.75" cy="114.92" r="1.65"/><circle cx="411.78" cy="110.18" r="1.65"/><circle cx="465.38" cy="115.39" r="1.65"/><circle cx="441.35" cy="107.71" r="1.65"/><circle cx="417.40" cy="103.69" r="1.65"/><circle cx="429.92" cy="97.17" r="1.65"/><circle cx="440.47" cy="107.04" r="1.65"/><circle cx="467.41" cy="115.85" r="1.65"/><circle cx="390.45" cy="115.52" r="1.65"/><circle cx="412.85" cy="109.55" r="1.65"/><circle cx="435.97" cy="98.34" r="1.65"/><circle cx="430.79" cy="93.70" r="1.65"/><circle cx="397.62" cy="115.21" r="1.65"/><circle cx="404.07" cy="114.67" r="1.65"/><circle cx="427.42" cy="94.58" r="1.65"/><circle cx="458.41" cy="114.73" r="1.65"/><circle cx="444.83" cy="109.20" r="1.65"/><circle cx="389.52" cy="115.13" r="1.65"/><circle cx="415.17" cy="107.24" r="1.65"/><circle cx="412.99" cy="110.86" r="1.65"/><circle cx="418.78" cy="104.83" r="1.65"/><circle cx="469.32" cy="115.06" r="1.65"/><circle cx="392.51" cy="115.74" r="1.65"/><circle cx="420.43" cy="101.20" r="1.65"/><circle cx="467.79" cy="115.15" r="1.65"/><circle cx="460.58" cy="113.95" r="1.65"/><circle cx="442.56" cy="107.79" r="1.65"/><circle cx="455.63" cy="114.99" r="1.65"/><circle cx="452.78" cy="114.72" r="1.65"/><circle cx="445.43" cy="111.05" r="1.65"/><circle cx="421.35" cy="99.02" r="1.65"/><circle cx="409.72" cy="111.86" r="1.65"/><circle cx="427.73" cy="95.07" r="1.65"/><circle cx="389.92" cy="115.42" r="1.65"/><circle cx="398.17" cy="115.33" r="1.65"/><circle cx="408.95" cy="113.06" r="1.65"/><circle cx="424.80" cy="96.06" r="1.65"/><circle cx="421.47" cy="101.53" r="1.65"/><circle cx="459.53" cy="115.26" r="1.65"/><circle cx="426.68" cy="96.82" r="1.65"/><circle cx="426.99" cy="94.46" r="1.65"/><circle cx="412.96" cy="109.68" r="1.65"/><circle cx="453.48" cy="114.64" r="1.65"/><circle cx="466.96" cy="114.67" r="1.65"/><circle cx="463.09" cy="115.51" r="1.65"/><circle cx="414.13" cy="108.46" r="1.65"/><circle cx="420.48" cy="104.77" r="1.65"/><circle cx="464.18" cy="115.10" r="1.65"/><circle cx="411.75" cy="110.39" r="1.65"/><circle cx="392.78" cy="115.14" r="1.65"/><circle cx="390.58" cy="115.15" r="1.65"/><circle cx="446.48" cy="111.98" r="1.65"/><circle cx="417.53" cy="103.73" r="1.65"/><circle cx="393.20" cy="115.44" r="1.65"/><circle cx="403.78" cy="113.80" r="1.65"/><circle cx="422.41" cy="100.61" r="1.65"/><circle cx="451.65" cy="113.70" r="1.65"/><circle cx="426.21" cy="98.19" r="1.65"/><circle cx="396.27" cy="115.23" r="1.65"/><circle cx="438.93" cy="104.09" r="1.65"/><circle cx="437.39" cy="101.53" r="1.65"/><circle cx="396.04" cy="114.65" r="1.65"/><circle cx="396.70" cy="115.34" r="1.65"/><circle cx="461.18" cy="115.43" r="1.65"/><circle cx="439.22" cy="105.15" r="1.65"/><circle cx="455.74" cy="114.91" r="1.65"/><circle cx="394.92" cy="115.76" r="1.65"/><circle cx="461.84" cy="115.69" r="1.65"/><circle cx="460.67" cy="115.65" r="1.65"/><circle cx="452.39" cy="113.89" r="1.65"/><circle cx="399.27" cy="114.09" r="1.65"/><circle cx="423.94" cy="99.51" r="1.65"/><circle cx="451.35" cy="114.21" r="1.65"/><circle cx="445.99" cy="111.16" r="1.65"/><circle cx="393.31" cy="114.81" r="1.65"/><circle cx="411.37" cy="113.24" r="1.65"/></g>
</g>
<rect x="384.50" y="68.40" width="88.40" height="50.90" fill="none" stroke="#333" stroke-width="0.7"/>
<path d="M393.74,119.30v1.8" stroke="#333" stroke-width="0.6"/>
<path d="M428.73,119.30v1.8" stroke="#333" stroke-width="0.6"/>
<path d="M463.73,119.30v1.8" stroke="#333" stroke-width="0.6"/>
<path d="M384.50,115.20h-1.8" stroke="#333" stroke-width="0.6"/>
<path d="M384.50,89.30h-1.8" stroke="#333" stroke-width="0.6"/>
<text x="385.10" y="74.80" font-size="6.31" text-anchor="start" fill="#000" textLength="25.42" lengthAdjust="spacing"><tspan>8.5-10 m</tspan></text>
<text x="394.04" y="128.00" font-size="6.38" text-anchor="middle" fill="#000" textLength="8.40" lengthAdjust="spacing"><tspan>−5</tspan></text>
<text x="428.73" y="128.00" font-size="6.38" text-anchor="middle" fill="#000" textLength="3.63" lengthAdjust="spacing"><tspan>0</tspan></text>
<text x="463.73" y="128.00" font-size="6.38" text-anchor="middle" fill="#000" textLength="3.63" lengthAdjust="spacing"><tspan>5</tspan></text>
<text x="428.70" y="135.60" font-size="6.31" text-anchor="middle" fill="#000" textLength="77.80" lengthAdjust="spacing"><tspan>Across-plume direction [m]</tspan></text>
<rect x="257.4" y="14.2" width="27.3" height="19" rx="1" fill="#fff" fill-opacity="0.8" stroke="#d8d8d8" stroke-width="0.5"/>
<path d="M264,16.2v5" stroke="#1f77b4" stroke-width="0.5"/><circle cx="264" cy="18.7" r="1.5" fill="#1f77b4" fill-opacity="0.1" stroke="#1f77b4" stroke-width="0.7"/>
<text x="272.80" y="20.60" font-size="5.60" text-anchor="start" fill="#333" textLength="9.48" lengthAdjust="spacing"><tspan>CH</tspan><tspan dy="1.10" font-size="3.92">4</tspan></text>
<path d="M259,28h10.5" stroke="#333" stroke-width="1.4"/>
<text x="272.80" y="29.90" font-size="5.60" text-anchor="start" fill="#333" textLength="9.48" lengthAdjust="spacing"><tspan>CH</tspan><tspan dy="1.10" font-size="3.92">4</tspan></text>
<text x="332.10" y="10.30" font-size="6.72" text-anchor="middle" fill="#000" textLength="7.98" lengthAdjust="spacing"><tspan>(c)</tspan></text>
<defs><clipPath id="cd"><rect x="198.3" y="144.6" width="180.89999999999998" height="106.6"/></clipPath></defs>
<g clip-path="url(#cd)">
<path d="M213.40,144.6V251.2M228.80,144.6V251.2M244.40,144.6V251.2M259.70,144.6V251.2M275.40,144.6V251.2M288.60,144.6V251.2M306.90,144.6V251.2M325.40,144.6V251.2M334.40,144.6V251.2M351.50,144.6V251.2M370.40,144.6V251.2M198.3,216.25H379.2M198.3,180.90H379.2" stroke="#dcdcdc" stroke-width="0.6" fill="none"/>
<path d="M198.3,149.08H379.2" stroke="#333" stroke-width="1.5" stroke-dasharray="4.4,1.8" fill="none"/>
<path d="M198.3,213.3H379.2" stroke="#111" stroke-width="1.2" fill="none"/>
<path d="M205.50,212.50V226.50M204.40,212.50h2.2M204.40,226.50h2.2M221.70,190.20V212.80M220.60,190.20h2.2M220.60,212.80h2.2M236.50,175.20V203.20M235.40,175.20h2.2M235.40,203.20h2.2M252.40,174.40V202.60M251.30,174.40h2.2M251.30,202.60h2.2M266.60,184.70V208.90M265.50,184.70h2.2M265.50,208.90h2.2M283.40,193.30V214.80M282.30,193.30h2.2M282.30,214.80h2.2M297.60,200.20V219.30M296.50,200.20h2.2M296.50,219.30h2.2M315.90,211.40V226.30M314.80,211.40h2.2M314.80,226.30h2.2M325.00,198.20V218.00M323.90,198.20h2.2M323.90,218.00h2.2M343.00,163.30V195.30M341.90,163.30h2.2M341.90,195.30h2.2M360.80,161.40V194.40M359.70,161.40h2.2M359.70,194.40h2.2M379.00,236.00V242.60M377.90,236.00h2.2M377.90,242.60h2.2" stroke="#1f77b4" stroke-width="0.8" fill="none" stroke-opacity="0.85"/>
<circle cx="205.50" cy="219.10" r="1.1" fill="#cfe0ee" stroke="#1f77b4" stroke-width="0.6"/>
<circle cx="221.70" cy="201.40" r="1.1" fill="#cfe0ee" stroke="#1f77b4" stroke-width="0.6"/>
<circle cx="236.50" cy="189.00" r="1.1" fill="#cfe0ee" stroke="#1f77b4" stroke-width="0.6"/>
<circle cx="252.40" cy="188.80" r="1.1" fill="#cfe0ee" stroke="#1f77b4" stroke-width="0.6"/>
<circle cx="266.60" cy="197.00" r="1.1" fill="#cfe0ee" stroke="#1f77b4" stroke-width="0.6"/>
<circle cx="283.40" cy="204.00" r="1.1" fill="#cfe0ee" stroke="#1f77b4" stroke-width="0.6"/>
<circle cx="297.60" cy="209.90" r="1.1" fill="#cfe0ee" stroke="#1f77b4" stroke-width="0.6"/>
<circle cx="315.90" cy="219.10" r="1.1" fill="#cfe0ee" stroke="#1f77b4" stroke-width="0.6"/>
<circle cx="325.00" cy="208.30" r="1.1" fill="#cfe0ee" stroke="#1f77b4" stroke-width="0.6"/>
<circle cx="343.00" cy="179.40" r="1.1" fill="#cfe0ee" stroke="#1f77b4" stroke-width="0.6"/>
<circle cx="360.80" cy="178.30" r="1.1" fill="#cfe0ee" stroke="#1f77b4" stroke-width="0.6"/>
<circle cx="379.00" cy="239.30" r="1.1" fill="#cfe0ee" stroke="#1f77b4" stroke-width="0.6"/>
</g>
<rect x="198.30" y="144.60" width="180.90" height="106.60" fill="none" stroke="#333" stroke-width="0.7"/>
<path d="M198.3,251.60h-1.8" stroke="#333" stroke-width="0.6"/>
<text x="195.10" y="254.20" font-size="6.38" text-anchor="end" fill="#000" textLength="3.63" lengthAdjust="spacing"><tspan>0</tspan></text>
<path d="M198.3,216.25h-1.8" stroke="#333" stroke-width="0.6"/>
<text x="195.10" y="218.85" font-size="6.38" text-anchor="end" fill="#000" textLength="10.88" lengthAdjust="spacing"><tspan>100</tspan></text>
<path d="M198.3,180.90h-1.8" stroke="#333" stroke-width="0.6"/>
<text x="195.10" y="183.50" font-size="6.38" text-anchor="end" fill="#000" textLength="10.88" lengthAdjust="spacing"><tspan>200</tspan></text>
<path d="M198.3,145.55h-1.8" stroke="#333" stroke-width="0.6"/>
<text x="195.10" y="148.15" font-size="6.38" text-anchor="end" fill="#000" textLength="10.88" lengthAdjust="spacing"><tspan>300</tspan></text>
<path d="M198.30,251.2v1.8" stroke="#333" stroke-width="0.6"/>
<text x="198.30" y="260.70" font-size="6.38" text-anchor="middle" fill="#000" textLength="3.63" lengthAdjust="spacing"><tspan>0</tspan></text>
<path d="M216.30,251.2v1.8" stroke="#333" stroke-width="0.6"/>
<text x="216.30" y="260.70" font-size="6.38" text-anchor="middle" fill="#000" textLength="3.63" lengthAdjust="spacing"><tspan>2</tspan></text>
<path d="M234.30,251.2v1.8" stroke="#333" stroke-width="0.6"/>
<text x="234.30" y="260.70" font-size="6.38" text-anchor="middle" fill="#000" textLength="3.63" lengthAdjust="spacing"><tspan>4</tspan></text>
<path d="M252.30,251.2v1.8" stroke="#333" stroke-width="0.6"/>
<text x="252.30" y="260.70" font-size="6.38" text-anchor="middle" fill="#000" textLength="3.63" lengthAdjust="spacing"><tspan>6</tspan></text>
<path d="M270.30,251.2v1.8" stroke="#333" stroke-width="0.6"/>
<text x="270.30" y="260.70" font-size="6.38" text-anchor="middle" fill="#000" textLength="3.63" lengthAdjust="spacing"><tspan>8</tspan></text>
<path d="M288.30,251.2v1.8" stroke="#333" stroke-width="0.6"/>
<text x="288.30" y="260.70" font-size="6.38" text-anchor="middle" fill="#000" textLength="7.25" lengthAdjust="spacing"><tspan>10</tspan></text>
<path d="M306.30,251.2v1.8" stroke="#333" stroke-width="0.6"/>
<text x="306.30" y="260.70" font-size="6.38" text-anchor="middle" fill="#000" textLength="7.25" lengthAdjust="spacing"><tspan>12</tspan></text>
<path d="M324.30,251.2v1.8" stroke="#333" stroke-width="0.6"/>
<text x="324.30" y="260.70" font-size="6.38" text-anchor="middle" fill="#000" textLength="7.25" lengthAdjust="spacing"><tspan>14</tspan></text>
<path d="M342.30,251.2v1.8" stroke="#333" stroke-width="0.6"/>
<text x="342.30" y="260.70" font-size="6.38" text-anchor="middle" fill="#000" textLength="7.25" lengthAdjust="spacing"><tspan>16</tspan></text>
<path d="M360.30,251.2v1.8" stroke="#333" stroke-width="0.6"/>
<text x="360.30" y="260.70" font-size="6.38" text-anchor="middle" fill="#000" textLength="7.25" lengthAdjust="spacing"><tspan>18</tspan></text>
<path d="M378.30,251.2v1.8" stroke="#333" stroke-width="0.6"/>
<text x="378.30" y="260.70" font-size="6.38" text-anchor="middle" fill="#000" textLength="7.25" lengthAdjust="spacing"><tspan>20</tspan></text>
<text x="288.70" y="268.60" font-size="6.44" text-anchor="middle" fill="#000" textLength="74.56" lengthAdjust="spacing"><tspan>Along-plume distance [m]</tspan></text>
<text x="178.60" y="197.50" font-size="6.38" text-anchor="middle" fill="#000" textLength="47.68" lengthAdjust="spacing" transform="rotate(-90 178.60 197.50)"><tspan>CH</tspan><tspan dy="1.25" font-size="4.47">4</tspan><tspan dy="-1.25"> flux [kg h</tspan><tspan dy="-2.39" font-size="4.47">−1</tspan><tspan dy="2.39">]</tspan></text>
<rect x="262.2" y="221.2" width="52" height="27.8" rx="1" fill="#fff" fill-opacity="0.8" stroke="#d8d8d8" stroke-width="0.5"/>
<path d="M264.1,226H274.5" stroke="#333" stroke-width="1.5" stroke-dasharray="4.4,1.8"/>
<text x="278.10" y="227.70" font-size="5.26" text-anchor="start" fill="#000" textLength="24.70" lengthAdjust="spacing"><tspan>Bottom-up</tspan></text>
<path d="M264.1,234.5H274.5" stroke="#111" stroke-width="1.2"/>
<text x="278.10" y="236.20" font-size="5.26" text-anchor="start" fill="#000" textLength="25.42" lengthAdjust="spacing"><tspan>CH</tspan><tspan dy="1.03" font-size="3.68">4</tspan><tspan dy="-1.03"> flux fit</tspan></text>
<path d="M269.3,241V246.9M268.2,241h2.2M268.2,246.9h2.2" stroke="#1f77b4" stroke-width="0.8"/><circle cx="269.3" cy="243.9" r="1.1" fill="#cfe0ee" stroke="#1f77b4" stroke-width="0.6"/>
<text x="278.10" y="244.70" font-size="5.26" text-anchor="start" fill="#000" textLength="34.00" lengthAdjust="spacing"><tspan>CH</tspan><tspan dy="1.03" font-size="3.68">4</tspan><tspan dy="-1.03"> estimates</tspan></text>
<text x="332.30" y="142.70" font-size="6.72" text-anchor="middle" fill="#000" textLength="8.49" lengthAdjust="spacing"><tspan>(d)</tspan></text>
<text x="385.90" y="150.10" font-size="6.31" text-anchor="start" fill="#2a2a2a" textLength="32.87" lengthAdjust="spacing"><tspan>Instrument:</tspan></text>
<text x="385.90" y="156.90" font-size="6.31" text-anchor="start" fill="#2a2a2a" textLength="95.32" lengthAdjust="spacing"><tspan>• Time: 2024-09-18 13:45:00 UTC</tspan></text>
<text x="385.90" y="163.20" font-size="6.31" text-anchor="start" fill="#2a2a2a" textLength="78.86" lengthAdjust="spacing"><tspan>• Resolution: 0.48 ± 0.11 m</tspan></text>
<text x="385.90" y="171.60" font-size="6.31" text-anchor="start" fill="#2a2a2a" textLength="81.22" lengthAdjust="spacing"><tspan>• CH</tspan><tspan dy="1.24" font-size="4.41">4</tspan><tspan dy="-1.24"> noise: 0.00028 kg m</tspan><tspan dy="-2.36" font-size="4.41">−2</tspan></text>
<text x="385.90" y="185.80" font-size="6.31" text-anchor="start" fill="#2a2a2a" textLength="47.75" lengthAdjust="spacing"><tspan>Plume detection:</tspan></text>
<text x="385.90" y="192.40" font-size="6.31" text-anchor="start" fill="#2a2a2a" textLength="46.15" lengthAdjust="spacing"><tspan>• Trace gas: CH</tspan><tspan dy="1.24" font-size="4.41">4</tspan></text>
<text x="385.90" y="199.50" font-size="6.31" text-anchor="start" fill="#2a2a2a" textLength="58.42" lengthAdjust="spacing"><tspan>• Plume size: 465 px</tspan></text>
<text x="385.90" y="205.60" font-size="6.31" text-anchor="start" fill="#2a2a2a" textLength="65.82" lengthAdjust="spacing"><tspan>• Plume length: 20.0 m</tspan></text>
<text x="385.90" y="211.90" font-size="6.31" text-anchor="start" fill="#2a2a2a" textLength="85.97" lengthAdjust="spacing"><tspan>• Plume maximum age: 20.6 s</tspan></text>
<text x="385.90" y="224.70" font-size="6.31" text-anchor="start" fill="#2a2a2a" textLength="16.05" lengthAdjust="spacing"><tspan>Wind:</tspan></text>
<text x="385.90" y="231.70" font-size="6.31" text-anchor="start" fill="#2a2a2a" textLength="69.58" lengthAdjust="spacing"><tspan>• Method: Effective wind</tspan></text>
<text x="385.90" y="239.90" font-size="6.31" text-anchor="start" fill="#2a2a2a" textLength="84.01" lengthAdjust="spacing"><tspan>• Speed: 1.0 ± 0.2 m s</tspan><tspan dy="-2.36" font-size="4.41">−1</tspan><tspan dy="2.36">, 34°</tspan></text>
<text x="385.90" y="247.50" font-size="6.31" text-anchor="start" fill="#2a2a2a" textLength="105.98" lengthAdjust="spacing"><tspan>• Angle between curve and wind: 10°</tspan></text>
<text x="385.90" y="260.00" font-size="6.31" text-anchor="start" fill="#2a2a2a" textLength="29.88" lengthAdjust="spacing"><tspan>Emissions:</tspan></text>
<text x="385.90" y="268.30" font-size="6.31" text-anchor="start" fill="#2a2a2a" textLength="101.07" lengthAdjust="spacing"><tspan>• Estimated CH</tspan><tspan dy="1.24" font-size="4.41">4</tspan><tspan dy="-1.24">: 109 ± 24.5 kg h</tspan><tspan dy="-2.36" font-size="4.41">−1</tspan></text>
<text x="385.90" y="278.40" font-size="6.31" text-anchor="start" fill="#2a2a2a" textLength="107.64" lengthAdjust="spacing"><tspan>• Bottom-up reported CH</tspan><tspan dy="1.24" font-size="4.41">4</tspan><tspan dy="-1.24">: 290 kg h</tspan><tspan dy="-2.36" font-size="4.41">−1</tspan></text>
</svg></body></html>
